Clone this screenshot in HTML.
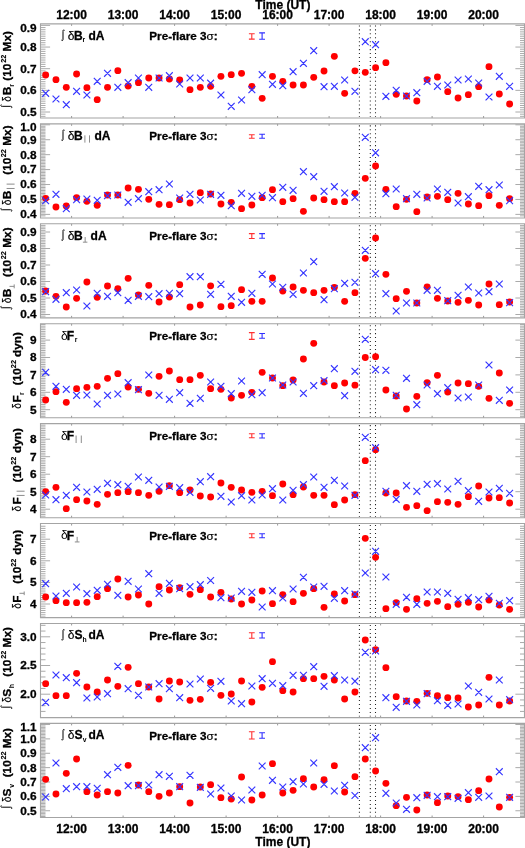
<!DOCTYPE html>
<html><head><meta charset="utf-8"><style>html,body{margin:0;padding:0;background:#fff;width:525px;height:848px;overflow:hidden}</style></head>
<body>
<svg width="525" height="848" viewBox="0 0 525 848" style="display:block;will-change:transform">
<rect width="525" height="848" fill="#fff"/>
<path d="M40.5 116.33h5.0M525 116.33h-5.0M40.5 114.16h5.0M525 114.16h-5.0M40.5 112.00h9.6M525 112.00h-9.6M40.5 109.84h5.0M525 109.84h-5.0M40.5 107.67h5.0M525 107.67h-5.0M40.5 105.50h5.0M525 105.50h-5.0M40.5 103.34h5.0M525 103.34h-5.0M40.5 101.17h5.0M525 101.17h-5.0M40.5 99.01h5.0M525 99.01h-5.0M40.5 96.84h5.0M525 96.84h-5.0M40.5 94.68h5.0M525 94.68h-5.0M40.5 92.52h5.0M525 92.52h-5.0M40.5 90.35h9.6M525 90.35h-9.6M40.5 88.19h5.0M525 88.19h-5.0M40.5 86.02h5.0M525 86.02h-5.0M40.5 83.86h5.0M525 83.86h-5.0M40.5 81.69h5.0M525 81.69h-5.0M40.5 79.53h5.0M525 79.53h-5.0M40.5 77.36h5.0M525 77.36h-5.0M40.5 75.19h5.0M525 75.19h-5.0M40.5 73.03h5.0M525 73.03h-5.0M40.5 70.86h5.0M525 70.86h-5.0M40.5 68.70h9.6M525 68.70h-9.6M40.5 66.54h5.0M525 66.54h-5.0M40.5 64.37h5.0M525 64.37h-5.0M40.5 62.21h5.0M525 62.21h-5.0M40.5 60.04h5.0M525 60.04h-5.0M40.5 57.88h5.0M525 57.88h-5.0M40.5 55.71h5.0M525 55.71h-5.0M40.5 53.55h5.0M525 53.55h-5.0M40.5 51.38h5.0M525 51.38h-5.0M40.5 49.21h5.0M525 49.21h-5.0M40.5 47.05h9.6M525 47.05h-9.6M40.5 44.88h5.0M525 44.88h-5.0M40.5 42.72h5.0M525 42.72h-5.0M40.5 40.55h5.0M525 40.55h-5.0M40.5 38.39h5.0M525 38.39h-5.0M40.5 36.23h5.0M525 36.23h-5.0M40.5 34.06h5.0M525 34.06h-5.0M40.5 31.90h5.0M525 31.90h-5.0M40.5 29.73h5.0M525 29.73h-5.0M40.5 27.57h5.0M525 27.57h-5.0M40.5 25.40h9.6M525 25.40h-9.6" stroke="#aaaaaa" stroke-width="1" fill="none"/>
<path d="M71.60 23.90v2M71.60 118.00v-2M123.10 23.90v2M123.10 118.00v-2M174.60 23.90v2M174.60 118.00v-2M226.10 23.90v2M226.10 118.00v-2M277.60 23.90v2M277.60 118.00v-2M329.10 23.90v2M329.10 118.00v-2M380.60 23.90v2M380.60 118.00v-2M432.10 23.90v2M432.10 118.00v-2M483.60 23.90v2M483.60 118.00v-2" stroke="#999" stroke-width="1" fill="none"/>
<path d="M524.5 23.90H40.5V118.00H524.5Z" stroke="#a4a4a4" stroke-width="1.1" fill="none"/>
<text x="36.60" y="115.90" text-anchor="end" font-family="&quot;Liberation Sans&quot;, sans-serif" font-weight="bold" font-size="11.8" stroke="#000" stroke-width="0.3">0.5</text>
<text x="36.60" y="94.25" text-anchor="end" font-family="&quot;Liberation Sans&quot;, sans-serif" font-weight="bold" font-size="11.8" stroke="#000" stroke-width="0.3">0.6</text>
<text x="36.60" y="72.60" text-anchor="end" font-family="&quot;Liberation Sans&quot;, sans-serif" font-weight="bold" font-size="11.8" stroke="#000" stroke-width="0.3">0.7</text>
<text x="36.60" y="50.95" text-anchor="end" font-family="&quot;Liberation Sans&quot;, sans-serif" font-weight="bold" font-size="11.8" stroke="#000" stroke-width="0.3">0.8</text>
<text x="36.60" y="31.50" text-anchor="end" font-family="&quot;Liberation Sans&quot;, sans-serif" font-weight="bold" font-size="11.8" stroke="#000" stroke-width="0.3">0.9</text>
<path d="M40.5 215.87h5.0M525 215.87h-5.0M40.5 214.38h9.6M525 214.38h-9.6M40.5 212.89h5.0M525 212.89h-5.0M40.5 211.39h5.0M525 211.39h-5.0M40.5 209.90h5.0M525 209.90h-5.0M40.5 208.41h5.0M525 208.41h-5.0M40.5 206.92h5.0M525 206.92h-5.0M40.5 205.42h5.0M525 205.42h-5.0M40.5 203.93h5.0M525 203.93h-5.0M40.5 202.44h5.0M525 202.44h-5.0M40.5 200.94h5.0M525 200.94h-5.0M40.5 199.45h9.6M525 199.45h-9.6M40.5 197.96h5.0M525 197.96h-5.0M40.5 196.46h5.0M525 196.46h-5.0M40.5 194.97h5.0M525 194.97h-5.0M40.5 193.48h5.0M525 193.48h-5.0M40.5 191.99h5.0M525 191.99h-5.0M40.5 190.49h5.0M525 190.49h-5.0M40.5 189.00h5.0M525 189.00h-5.0M40.5 187.51h5.0M525 187.51h-5.0M40.5 186.01h5.0M525 186.01h-5.0M40.5 184.52h9.6M525 184.52h-9.6M40.5 183.03h5.0M525 183.03h-5.0M40.5 181.53h5.0M525 181.53h-5.0M40.5 180.04h5.0M525 180.04h-5.0M40.5 178.55h5.0M525 178.55h-5.0M40.5 177.06h5.0M525 177.06h-5.0M40.5 175.56h5.0M525 175.56h-5.0M40.5 174.07h5.0M525 174.07h-5.0M40.5 172.58h5.0M525 172.58h-5.0M40.5 171.08h5.0M525 171.08h-5.0M40.5 169.59h9.6M525 169.59h-9.6M40.5 168.10h5.0M525 168.10h-5.0M40.5 166.60h5.0M525 166.60h-5.0M40.5 165.11h5.0M525 165.11h-5.0M40.5 163.62h5.0M525 163.62h-5.0M40.5 162.12h5.0M525 162.12h-5.0M40.5 160.63h5.0M525 160.63h-5.0M40.5 159.14h5.0M525 159.14h-5.0M40.5 157.65h5.0M525 157.65h-5.0M40.5 156.15h5.0M525 156.15h-5.0M40.5 154.66h9.6M525 154.66h-9.6M40.5 153.17h5.0M525 153.17h-5.0M40.5 151.67h5.0M525 151.67h-5.0M40.5 150.18h5.0M525 150.18h-5.0M40.5 148.69h5.0M525 148.69h-5.0M40.5 147.19h5.0M525 147.19h-5.0M40.5 145.70h5.0M525 145.70h-5.0M40.5 144.21h5.0M525 144.21h-5.0M40.5 142.72h5.0M525 142.72h-5.0M40.5 141.22h5.0M525 141.22h-5.0M40.5 139.73h9.6M525 139.73h-9.6M40.5 138.24h5.0M525 138.24h-5.0M40.5 136.74h5.0M525 136.74h-5.0M40.5 135.25h5.0M525 135.25h-5.0M40.5 133.76h5.0M525 133.76h-5.0M40.5 132.26h5.0M525 132.26h-5.0M40.5 130.77h5.0M525 130.77h-5.0M40.5 129.28h5.0M525 129.28h-5.0M40.5 127.79h5.0M525 127.79h-5.0M40.5 126.29h5.0M525 126.29h-5.0M40.5 124.80h9.6M525 124.80h-9.6" stroke="#aaaaaa" stroke-width="1" fill="none"/>
<path d="M71.60 123.83v2M71.60 217.93v-2M123.10 123.83v2M123.10 217.93v-2M174.60 123.83v2M174.60 217.93v-2M226.10 123.83v2M226.10 217.93v-2M277.60 123.83v2M277.60 217.93v-2M329.10 123.83v2M329.10 217.93v-2M380.60 123.83v2M380.60 217.93v-2M432.10 123.83v2M432.10 217.93v-2M483.60 123.83v2M483.60 217.93v-2" stroke="#999" stroke-width="1" fill="none"/>
<path d="M524.5 123.83H40.5V217.93H524.5Z" stroke="#a4a4a4" stroke-width="1.1" fill="none"/>
<text x="36.60" y="218.28" text-anchor="end" font-family="&quot;Liberation Sans&quot;, sans-serif" font-weight="bold" font-size="11.8" stroke="#000" stroke-width="0.3">0.4</text>
<text x="36.60" y="203.35" text-anchor="end" font-family="&quot;Liberation Sans&quot;, sans-serif" font-weight="bold" font-size="11.8" stroke="#000" stroke-width="0.3">0.5</text>
<text x="36.60" y="188.42" text-anchor="end" font-family="&quot;Liberation Sans&quot;, sans-serif" font-weight="bold" font-size="11.8" stroke="#000" stroke-width="0.3">0.6</text>
<text x="36.60" y="173.49" text-anchor="end" font-family="&quot;Liberation Sans&quot;, sans-serif" font-weight="bold" font-size="11.8" stroke="#000" stroke-width="0.3">0.7</text>
<text x="36.60" y="158.56" text-anchor="end" font-family="&quot;Liberation Sans&quot;, sans-serif" font-weight="bold" font-size="11.8" stroke="#000" stroke-width="0.3">0.8</text>
<text x="36.60" y="143.63" text-anchor="end" font-family="&quot;Liberation Sans&quot;, sans-serif" font-weight="bold" font-size="11.8" stroke="#000" stroke-width="0.3">0.9</text>
<text x="36.60" y="130.90" text-anchor="end" font-family="&quot;Liberation Sans&quot;, sans-serif" font-weight="bold" font-size="11.8" stroke="#000" stroke-width="0.3">1.0</text>
<path d="M40.5 316.15h5.0M525 316.15h-5.0M40.5 314.50h9.6M525 314.50h-9.6M40.5 312.85h5.0M525 312.85h-5.0M40.5 311.20h5.0M525 311.20h-5.0M40.5 309.55h5.0M525 309.55h-5.0M40.5 307.90h5.0M525 307.90h-5.0M40.5 306.25h5.0M525 306.25h-5.0M40.5 304.60h5.0M525 304.60h-5.0M40.5 302.95h5.0M525 302.95h-5.0M40.5 301.30h5.0M525 301.30h-5.0M40.5 299.65h5.0M525 299.65h-5.0M40.5 298.00h9.6M525 298.00h-9.6M40.5 296.35h5.0M525 296.35h-5.0M40.5 294.70h5.0M525 294.70h-5.0M40.5 293.05h5.0M525 293.05h-5.0M40.5 291.40h5.0M525 291.40h-5.0M40.5 289.75h5.0M525 289.75h-5.0M40.5 288.10h5.0M525 288.10h-5.0M40.5 286.45h5.0M525 286.45h-5.0M40.5 284.80h5.0M525 284.80h-5.0M40.5 283.15h5.0M525 283.15h-5.0M40.5 281.50h9.6M525 281.50h-9.6M40.5 279.85h5.0M525 279.85h-5.0M40.5 278.20h5.0M525 278.20h-5.0M40.5 276.55h5.0M525 276.55h-5.0M40.5 274.90h5.0M525 274.90h-5.0M40.5 273.25h5.0M525 273.25h-5.0M40.5 271.60h5.0M525 271.60h-5.0M40.5 269.95h5.0M525 269.95h-5.0M40.5 268.30h5.0M525 268.30h-5.0M40.5 266.65h5.0M525 266.65h-5.0M40.5 265.00h9.6M525 265.00h-9.6M40.5 263.35h5.0M525 263.35h-5.0M40.5 261.70h5.0M525 261.70h-5.0M40.5 260.05h5.0M525 260.05h-5.0M40.5 258.40h5.0M525 258.40h-5.0M40.5 256.75h5.0M525 256.75h-5.0M40.5 255.10h5.0M525 255.10h-5.0M40.5 253.45h5.0M525 253.45h-5.0M40.5 251.80h5.0M525 251.80h-5.0M40.5 250.15h5.0M525 250.15h-5.0M40.5 248.50h9.6M525 248.50h-9.6M40.5 246.85h5.0M525 246.85h-5.0M40.5 245.20h5.0M525 245.20h-5.0M40.5 243.55h5.0M525 243.55h-5.0M40.5 241.90h5.0M525 241.90h-5.0M40.5 240.25h5.0M525 240.25h-5.0M40.5 238.60h5.0M525 238.60h-5.0M40.5 236.95h5.0M525 236.95h-5.0M40.5 235.30h5.0M525 235.30h-5.0M40.5 233.65h5.0M525 233.65h-5.0M40.5 232.00h9.6M525 232.00h-9.6M40.5 230.35h5.0M525 230.35h-5.0M40.5 228.70h5.0M525 228.70h-5.0M40.5 227.05h5.0M525 227.05h-5.0M40.5 225.40h5.0M525 225.40h-5.0" stroke="#aaaaaa" stroke-width="1" fill="none"/>
<path d="M71.60 223.76v2M71.60 317.86v-2M123.10 223.76v2M123.10 317.86v-2M174.60 223.76v2M174.60 317.86v-2M226.10 223.76v2M226.10 317.86v-2M277.60 223.76v2M277.60 317.86v-2M329.10 223.76v2M329.10 317.86v-2M380.60 223.76v2M380.60 317.86v-2M432.10 223.76v2M432.10 317.86v-2M483.60 223.76v2M483.60 317.86v-2" stroke="#999" stroke-width="1" fill="none"/>
<path d="M524.5 223.76H40.5V317.86H524.5Z" stroke="#a4a4a4" stroke-width="1.1" fill="none"/>
<text x="36.60" y="318.40" text-anchor="end" font-family="&quot;Liberation Sans&quot;, sans-serif" font-weight="bold" font-size="11.8" stroke="#000" stroke-width="0.3">0.4</text>
<text x="36.60" y="301.90" text-anchor="end" font-family="&quot;Liberation Sans&quot;, sans-serif" font-weight="bold" font-size="11.8" stroke="#000" stroke-width="0.3">0.5</text>
<text x="36.60" y="285.40" text-anchor="end" font-family="&quot;Liberation Sans&quot;, sans-serif" font-weight="bold" font-size="11.8" stroke="#000" stroke-width="0.3">0.6</text>
<text x="36.60" y="268.90" text-anchor="end" font-family="&quot;Liberation Sans&quot;, sans-serif" font-weight="bold" font-size="11.8" stroke="#000" stroke-width="0.3">0.7</text>
<text x="36.60" y="252.40" text-anchor="end" font-family="&quot;Liberation Sans&quot;, sans-serif" font-weight="bold" font-size="11.8" stroke="#000" stroke-width="0.3">0.8</text>
<text x="36.60" y="235.90" text-anchor="end" font-family="&quot;Liberation Sans&quot;, sans-serif" font-weight="bold" font-size="11.8" stroke="#000" stroke-width="0.3">0.9</text>
<path d="M40.5 416.66h5.0M525 416.66h-5.0M40.5 414.92h5.0M525 414.92h-5.0M40.5 413.18h5.0M525 413.18h-5.0M40.5 411.44h5.0M525 411.44h-5.0M40.5 409.70h9.6M525 409.70h-9.6M40.5 407.96h5.0M525 407.96h-5.0M40.5 406.22h5.0M525 406.22h-5.0M40.5 404.48h5.0M525 404.48h-5.0M40.5 402.74h5.0M525 402.74h-5.0M40.5 401.00h5.0M525 401.00h-5.0M40.5 399.26h5.0M525 399.26h-5.0M40.5 397.52h5.0M525 397.52h-5.0M40.5 395.78h5.0M525 395.78h-5.0M40.5 394.04h5.0M525 394.04h-5.0M40.5 392.30h9.6M525 392.30h-9.6M40.5 390.56h5.0M525 390.56h-5.0M40.5 388.82h5.0M525 388.82h-5.0M40.5 387.08h5.0M525 387.08h-5.0M40.5 385.34h5.0M525 385.34h-5.0M40.5 383.60h5.0M525 383.60h-5.0M40.5 381.86h5.0M525 381.86h-5.0M40.5 380.12h5.0M525 380.12h-5.0M40.5 378.38h5.0M525 378.38h-5.0M40.5 376.64h5.0M525 376.64h-5.0M40.5 374.90h9.6M525 374.90h-9.6M40.5 373.16h5.0M525 373.16h-5.0M40.5 371.42h5.0M525 371.42h-5.0M40.5 369.68h5.0M525 369.68h-5.0M40.5 367.94h5.0M525 367.94h-5.0M40.5 366.20h5.0M525 366.20h-5.0M40.5 364.46h5.0M525 364.46h-5.0M40.5 362.72h5.0M525 362.72h-5.0M40.5 360.98h5.0M525 360.98h-5.0M40.5 359.24h5.0M525 359.24h-5.0M40.5 357.50h9.6M525 357.50h-9.6M40.5 355.76h5.0M525 355.76h-5.0M40.5 354.02h5.0M525 354.02h-5.0M40.5 352.28h5.0M525 352.28h-5.0M40.5 350.54h5.0M525 350.54h-5.0M40.5 348.80h5.0M525 348.80h-5.0M40.5 347.06h5.0M525 347.06h-5.0M40.5 345.32h5.0M525 345.32h-5.0M40.5 343.58h5.0M525 343.58h-5.0M40.5 341.84h5.0M525 341.84h-5.0M40.5 340.10h9.6M525 340.10h-9.6M40.5 338.36h5.0M525 338.36h-5.0M40.5 336.62h5.0M525 336.62h-5.0M40.5 334.88h5.0M525 334.88h-5.0M40.5 333.14h5.0M525 333.14h-5.0M40.5 331.40h5.0M525 331.40h-5.0M40.5 329.66h5.0M525 329.66h-5.0M40.5 327.92h5.0M525 327.92h-5.0M40.5 326.18h5.0M525 326.18h-5.0M40.5 324.44h5.0M525 324.44h-5.0" stroke="#aaaaaa" stroke-width="1" fill="none"/>
<path d="M71.60 323.69v2M71.60 417.79v-2M123.10 323.69v2M123.10 417.79v-2M174.60 323.69v2M174.60 417.79v-2M226.10 323.69v2M226.10 417.79v-2M277.60 323.69v2M277.60 417.79v-2M329.10 323.69v2M329.10 417.79v-2M380.60 323.69v2M380.60 417.79v-2M432.10 323.69v2M432.10 417.79v-2M483.60 323.69v2M483.60 417.79v-2" stroke="#999" stroke-width="1" fill="none"/>
<path d="M524.5 323.69H40.5V417.79H524.5Z" stroke="#a4a4a4" stroke-width="1.1" fill="none"/>
<text x="36.60" y="413.60" text-anchor="end" font-family="&quot;Liberation Sans&quot;, sans-serif" font-weight="bold" font-size="11.8" stroke="#000" stroke-width="0.3">5</text>
<text x="36.60" y="396.20" text-anchor="end" font-family="&quot;Liberation Sans&quot;, sans-serif" font-weight="bold" font-size="11.8" stroke="#000" stroke-width="0.3">6</text>
<text x="36.60" y="378.80" text-anchor="end" font-family="&quot;Liberation Sans&quot;, sans-serif" font-weight="bold" font-size="11.8" stroke="#000" stroke-width="0.3">7</text>
<text x="36.60" y="361.40" text-anchor="end" font-family="&quot;Liberation Sans&quot;, sans-serif" font-weight="bold" font-size="11.8" stroke="#000" stroke-width="0.3">8</text>
<text x="36.60" y="344.00" text-anchor="end" font-family="&quot;Liberation Sans&quot;, sans-serif" font-weight="bold" font-size="11.8" stroke="#000" stroke-width="0.3">9</text>
<path d="M40.5 516.20h5.0M525 516.20h-5.0M40.5 514.45h5.0M525 514.45h-5.0M40.5 512.70h5.0M525 512.70h-5.0M40.5 510.95h5.0M525 510.95h-5.0M40.5 509.20h9.6M525 509.20h-9.6M40.5 507.45h5.0M525 507.45h-5.0M40.5 505.70h5.0M525 505.70h-5.0M40.5 503.95h5.0M525 503.95h-5.0M40.5 502.20h5.0M525 502.20h-5.0M40.5 500.45h5.0M525 500.45h-5.0M40.5 498.70h5.0M525 498.70h-5.0M40.5 496.95h5.0M525 496.95h-5.0M40.5 495.20h5.0M525 495.20h-5.0M40.5 493.45h5.0M525 493.45h-5.0M40.5 491.70h9.6M525 491.70h-9.6M40.5 489.95h5.0M525 489.95h-5.0M40.5 488.20h5.0M525 488.20h-5.0M40.5 486.45h5.0M525 486.45h-5.0M40.5 484.70h5.0M525 484.70h-5.0M40.5 482.95h5.0M525 482.95h-5.0M40.5 481.20h5.0M525 481.20h-5.0M40.5 479.45h5.0M525 479.45h-5.0M40.5 477.70h5.0M525 477.70h-5.0M40.5 475.95h5.0M525 475.95h-5.0M40.5 474.20h9.6M525 474.20h-9.6M40.5 472.45h5.0M525 472.45h-5.0M40.5 470.70h5.0M525 470.70h-5.0M40.5 468.95h5.0M525 468.95h-5.0M40.5 467.20h5.0M525 467.20h-5.0M40.5 465.45h5.0M525 465.45h-5.0M40.5 463.70h5.0M525 463.70h-5.0M40.5 461.95h5.0M525 461.95h-5.0M40.5 460.20h5.0M525 460.20h-5.0M40.5 458.45h5.0M525 458.45h-5.0M40.5 456.70h9.6M525 456.70h-9.6M40.5 454.95h5.0M525 454.95h-5.0M40.5 453.20h5.0M525 453.20h-5.0M40.5 451.45h5.0M525 451.45h-5.0M40.5 449.70h5.0M525 449.70h-5.0M40.5 447.95h5.0M525 447.95h-5.0M40.5 446.20h5.0M525 446.20h-5.0M40.5 444.45h5.0M525 444.45h-5.0M40.5 442.70h5.0M525 442.70h-5.0M40.5 440.95h5.0M525 440.95h-5.0M40.5 439.20h9.6M525 439.20h-9.6M40.5 437.45h5.0M525 437.45h-5.0M40.5 435.70h5.0M525 435.70h-5.0M40.5 433.95h5.0M525 433.95h-5.0M40.5 432.20h5.0M525 432.20h-5.0M40.5 430.45h5.0M525 430.45h-5.0M40.5 428.70h5.0M525 428.70h-5.0M40.5 426.95h5.0M525 426.95h-5.0M40.5 425.20h5.0M525 425.20h-5.0" stroke="#aaaaaa" stroke-width="1" fill="none"/>
<path d="M71.60 423.62v2M71.60 517.72v-2M123.10 423.62v2M123.10 517.72v-2M174.60 423.62v2M174.60 517.72v-2M226.10 423.62v2M226.10 517.72v-2M277.60 423.62v2M277.60 517.72v-2M329.10 423.62v2M329.10 517.72v-2M380.60 423.62v2M380.60 517.72v-2M432.10 423.62v2M432.10 517.72v-2M483.60 423.62v2M483.60 517.72v-2" stroke="#999" stroke-width="1" fill="none"/>
<path d="M524.5 423.62H40.5V517.72H524.5Z" stroke="#a4a4a4" stroke-width="1.1" fill="none"/>
<text x="36.60" y="513.10" text-anchor="end" font-family="&quot;Liberation Sans&quot;, sans-serif" font-weight="bold" font-size="11.8" stroke="#000" stroke-width="0.3">4</text>
<text x="36.60" y="495.60" text-anchor="end" font-family="&quot;Liberation Sans&quot;, sans-serif" font-weight="bold" font-size="11.8" stroke="#000" stroke-width="0.3">5</text>
<text x="36.60" y="478.10" text-anchor="end" font-family="&quot;Liberation Sans&quot;, sans-serif" font-weight="bold" font-size="11.8" stroke="#000" stroke-width="0.3">6</text>
<text x="36.60" y="460.60" text-anchor="end" font-family="&quot;Liberation Sans&quot;, sans-serif" font-weight="bold" font-size="11.8" stroke="#000" stroke-width="0.3">7</text>
<text x="36.60" y="443.10" text-anchor="end" font-family="&quot;Liberation Sans&quot;, sans-serif" font-weight="bold" font-size="11.8" stroke="#000" stroke-width="0.3">8</text>
<path d="M40.5 616.96h5.0M525 616.96h-5.0M40.5 614.80h5.0M525 614.80h-5.0M40.5 612.64h5.0M525 612.64h-5.0M40.5 610.48h5.0M525 610.48h-5.0M40.5 608.32h5.0M525 608.32h-5.0M40.5 606.16h5.0M525 606.16h-5.0M40.5 604.00h9.6M525 604.00h-9.6M40.5 601.84h5.0M525 601.84h-5.0M40.5 599.68h5.0M525 599.68h-5.0M40.5 597.52h5.0M525 597.52h-5.0M40.5 595.36h5.0M525 595.36h-5.0M40.5 593.20h5.0M525 593.20h-5.0M40.5 591.04h5.0M525 591.04h-5.0M40.5 588.88h5.0M525 588.88h-5.0M40.5 586.72h5.0M525 586.72h-5.0M40.5 584.56h5.0M525 584.56h-5.0M40.5 582.40h9.6M525 582.40h-9.6M40.5 580.24h5.0M525 580.24h-5.0M40.5 578.08h5.0M525 578.08h-5.0M40.5 575.92h5.0M525 575.92h-5.0M40.5 573.76h5.0M525 573.76h-5.0M40.5 571.60h5.0M525 571.60h-5.0M40.5 569.44h5.0M525 569.44h-5.0M40.5 567.28h5.0M525 567.28h-5.0M40.5 565.12h5.0M525 565.12h-5.0M40.5 562.96h5.0M525 562.96h-5.0M40.5 560.80h9.6M525 560.80h-9.6M40.5 558.64h5.0M525 558.64h-5.0M40.5 556.48h5.0M525 556.48h-5.0M40.5 554.32h5.0M525 554.32h-5.0M40.5 552.16h5.0M525 552.16h-5.0M40.5 550.00h5.0M525 550.00h-5.0M40.5 547.84h5.0M525 547.84h-5.0M40.5 545.68h5.0M525 545.68h-5.0M40.5 543.52h5.0M525 543.52h-5.0M40.5 541.36h5.0M525 541.36h-5.0M40.5 539.20h9.6M525 539.20h-9.6M40.5 537.04h5.0M525 537.04h-5.0M40.5 534.88h5.0M525 534.88h-5.0M40.5 532.72h5.0M525 532.72h-5.0M40.5 530.56h5.0M525 530.56h-5.0M40.5 528.40h5.0M525 528.40h-5.0M40.5 526.24h5.0M525 526.24h-5.0" stroke="#aaaaaa" stroke-width="1" fill="none"/>
<path d="M71.60 523.55v2M71.60 617.65v-2M123.10 523.55v2M123.10 617.65v-2M174.60 523.55v2M174.60 617.65v-2M226.10 523.55v2M226.10 617.65v-2M277.60 523.55v2M277.60 617.65v-2M329.10 523.55v2M329.10 617.65v-2M380.60 523.55v2M380.60 617.65v-2M432.10 523.55v2M432.10 617.65v-2M483.60 523.55v2M483.60 617.65v-2" stroke="#999" stroke-width="1" fill="none"/>
<path d="M524.5 523.55H40.5V617.65H524.5Z" stroke="#a4a4a4" stroke-width="1.1" fill="none"/>
<text x="36.60" y="607.90" text-anchor="end" font-family="&quot;Liberation Sans&quot;, sans-serif" font-weight="bold" font-size="11.8" stroke="#000" stroke-width="0.3">4</text>
<text x="36.60" y="586.30" text-anchor="end" font-family="&quot;Liberation Sans&quot;, sans-serif" font-weight="bold" font-size="11.8" stroke="#000" stroke-width="0.3">5</text>
<text x="36.60" y="564.70" text-anchor="end" font-family="&quot;Liberation Sans&quot;, sans-serif" font-weight="bold" font-size="11.8" stroke="#000" stroke-width="0.3">6</text>
<text x="36.60" y="543.10" text-anchor="end" font-family="&quot;Liberation Sans&quot;, sans-serif" font-weight="bold" font-size="11.8" stroke="#000" stroke-width="0.3">7</text>
<path d="M40.5 711.42h5.0M525 711.42h-5.0M40.5 705.68h5.0M525 705.68h-5.0M40.5 699.94h5.0M525 699.94h-5.0M40.5 694.20h9.6M525 694.20h-9.6M40.5 688.46h5.0M525 688.46h-5.0M40.5 682.72h5.0M525 682.72h-5.0M40.5 676.98h5.0M525 676.98h-5.0M40.5 671.24h5.0M525 671.24h-5.0M40.5 665.50h9.6M525 665.50h-9.6M40.5 659.76h5.0M525 659.76h-5.0M40.5 654.02h5.0M525 654.02h-5.0M40.5 648.28h5.0M525 648.28h-5.0M40.5 642.54h5.0M525 642.54h-5.0M40.5 636.80h9.6M525 636.80h-9.6M40.5 631.06h5.0M525 631.06h-5.0M40.5 625.32h5.0M525 625.32h-5.0" stroke="#aaaaaa" stroke-width="1" fill="none"/>
<path d="M71.60 623.48v2M71.60 717.58v-2M123.10 623.48v2M123.10 717.58v-2M174.60 623.48v2M174.60 717.58v-2M226.10 623.48v2M226.10 717.58v-2M277.60 623.48v2M277.60 717.58v-2M329.10 623.48v2M329.10 717.58v-2M380.60 623.48v2M380.60 717.58v-2M432.10 623.48v2M432.10 717.58v-2M483.60 623.48v2M483.60 717.58v-2" stroke="#999" stroke-width="1" fill="none"/>
<path d="M524.5 623.48H40.5V717.58H524.5Z" stroke="#a4a4a4" stroke-width="1.1" fill="none"/>
<text x="36.60" y="698.10" text-anchor="end" font-family="&quot;Liberation Sans&quot;, sans-serif" font-weight="bold" font-size="11.8" stroke="#000" stroke-width="0.3">2.0</text>
<text x="36.60" y="669.40" text-anchor="end" font-family="&quot;Liberation Sans&quot;, sans-serif" font-weight="bold" font-size="11.8" stroke="#000" stroke-width="0.3">2.5</text>
<text x="36.60" y="640.70" text-anchor="end" font-family="&quot;Liberation Sans&quot;, sans-serif" font-weight="bold" font-size="11.8" stroke="#000" stroke-width="0.3">3.0</text>
<path d="M40.5 816.50h5.0M525 816.50h-5.0M40.5 815.06h5.0M525 815.06h-5.0M40.5 813.62h5.0M525 813.62h-5.0M40.5 812.19h5.0M525 812.19h-5.0M40.5 810.75h9.6M525 810.75h-9.6M40.5 809.31h5.0M525 809.31h-5.0M40.5 807.88h5.0M525 807.88h-5.0M40.5 806.44h5.0M525 806.44h-5.0M40.5 805.00h5.0M525 805.00h-5.0M40.5 803.56h5.0M525 803.56h-5.0M40.5 802.13h5.0M525 802.13h-5.0M40.5 800.69h5.0M525 800.69h-5.0M40.5 799.25h5.0M525 799.25h-5.0M40.5 797.82h5.0M525 797.82h-5.0M40.5 796.38h9.6M525 796.38h-9.6M40.5 794.94h5.0M525 794.94h-5.0M40.5 793.51h5.0M525 793.51h-5.0M40.5 792.07h5.0M525 792.07h-5.0M40.5 790.63h5.0M525 790.63h-5.0M40.5 789.19h5.0M525 789.19h-5.0M40.5 787.76h5.0M525 787.76h-5.0M40.5 786.32h5.0M525 786.32h-5.0M40.5 784.88h5.0M525 784.88h-5.0M40.5 783.45h5.0M525 783.45h-5.0M40.5 782.01h9.6M525 782.01h-9.6M40.5 780.57h5.0M525 780.57h-5.0M40.5 779.14h5.0M525 779.14h-5.0M40.5 777.70h5.0M525 777.70h-5.0M40.5 776.26h5.0M525 776.26h-5.0M40.5 774.82h5.0M525 774.82h-5.0M40.5 773.39h5.0M525 773.39h-5.0M40.5 771.95h5.0M525 771.95h-5.0M40.5 770.51h5.0M525 770.51h-5.0M40.5 769.08h5.0M525 769.08h-5.0M40.5 767.64h9.6M525 767.64h-9.6M40.5 766.20h5.0M525 766.20h-5.0M40.5 764.77h5.0M525 764.77h-5.0M40.5 763.33h5.0M525 763.33h-5.0M40.5 761.89h5.0M525 761.89h-5.0M40.5 760.45h5.0M525 760.45h-5.0M40.5 759.02h5.0M525 759.02h-5.0M40.5 757.58h5.0M525 757.58h-5.0M40.5 756.14h5.0M525 756.14h-5.0M40.5 754.71h5.0M525 754.71h-5.0M40.5 753.27h9.6M525 753.27h-9.6M40.5 751.83h5.0M525 751.83h-5.0M40.5 750.40h5.0M525 750.40h-5.0M40.5 748.96h5.0M525 748.96h-5.0M40.5 747.52h5.0M525 747.52h-5.0M40.5 746.08h5.0M525 746.08h-5.0M40.5 744.65h5.0M525 744.65h-5.0M40.5 743.21h5.0M525 743.21h-5.0M40.5 741.77h5.0M525 741.77h-5.0M40.5 740.34h5.0M525 740.34h-5.0M40.5 738.90h9.6M525 738.90h-9.6M40.5 737.46h5.0M525 737.46h-5.0M40.5 736.03h5.0M525 736.03h-5.0M40.5 734.59h5.0M525 734.59h-5.0M40.5 733.15h5.0M525 733.15h-5.0M40.5 731.71h5.0M525 731.71h-5.0M40.5 730.28h5.0M525 730.28h-5.0M40.5 728.84h5.0M525 728.84h-5.0M40.5 727.40h5.0M525 727.40h-5.0M40.5 725.97h5.0M525 725.97h-5.0M40.5 724.53h9.6M525 724.53h-9.6" stroke="#aaaaaa" stroke-width="1" fill="none"/>
<path d="M71.60 723.41v2M71.60 817.51v-2M123.10 723.41v2M123.10 817.51v-2M174.60 723.41v2M174.60 817.51v-2M226.10 723.41v2M226.10 817.51v-2M277.60 723.41v2M277.60 817.51v-2M329.10 723.41v2M329.10 817.51v-2M380.60 723.41v2M380.60 817.51v-2M432.10 723.41v2M432.10 817.51v-2M483.60 723.41v2M483.60 817.51v-2" stroke="#999" stroke-width="1" fill="none"/>
<path d="M524.5 723.41H40.5V817.51H524.5Z" stroke="#a4a4a4" stroke-width="1.1" fill="none"/>
<text x="36.60" y="814.65" text-anchor="end" font-family="&quot;Liberation Sans&quot;, sans-serif" font-weight="bold" font-size="11.8" stroke="#000" stroke-width="0.3">0.5</text>
<text x="36.60" y="800.28" text-anchor="end" font-family="&quot;Liberation Sans&quot;, sans-serif" font-weight="bold" font-size="11.8" stroke="#000" stroke-width="0.3">0.6</text>
<text x="36.60" y="785.91" text-anchor="end" font-family="&quot;Liberation Sans&quot;, sans-serif" font-weight="bold" font-size="11.8" stroke="#000" stroke-width="0.3">0.7</text>
<text x="36.60" y="771.54" text-anchor="end" font-family="&quot;Liberation Sans&quot;, sans-serif" font-weight="bold" font-size="11.8" stroke="#000" stroke-width="0.3">0.8</text>
<text x="36.60" y="757.17" text-anchor="end" font-family="&quot;Liberation Sans&quot;, sans-serif" font-weight="bold" font-size="11.8" stroke="#000" stroke-width="0.3">0.9</text>
<text x="36.60" y="742.80" text-anchor="end" font-family="&quot;Liberation Sans&quot;, sans-serif" font-weight="bold" font-size="11.8" stroke="#000" stroke-width="0.3">1.0</text>
<text x="36.60" y="730.63" text-anchor="end" font-family="&quot;Liberation Sans&quot;, sans-serif" font-weight="bold" font-size="11.8" stroke="#000" stroke-width="0.3">1.1</text>
<line x1="359.4" y1="25.40" x2="359.4" y2="117.00" stroke="#222" stroke-width="1.05" stroke-dasharray="1.05 2.9"/>
<line x1="370.3" y1="25.40" x2="370.3" y2="117.00" stroke="#222" stroke-width="1.05" stroke-dasharray="1.05 2.9"/>
<line x1="375.5" y1="25.40" x2="375.5" y2="117.00" stroke="#222" stroke-width="1.05" stroke-dasharray="1.05 2.9"/>
<line x1="359.4" y1="125.33" x2="359.4" y2="216.93" stroke="#222" stroke-width="1.05" stroke-dasharray="1.05 2.9"/>
<line x1="370.3" y1="125.33" x2="370.3" y2="216.93" stroke="#222" stroke-width="1.05" stroke-dasharray="1.05 2.9"/>
<line x1="375.5" y1="125.33" x2="375.5" y2="216.93" stroke="#222" stroke-width="1.05" stroke-dasharray="1.05 2.9"/>
<line x1="359.4" y1="225.26" x2="359.4" y2="316.86" stroke="#222" stroke-width="1.05" stroke-dasharray="1.05 2.9"/>
<line x1="370.3" y1="225.26" x2="370.3" y2="316.86" stroke="#222" stroke-width="1.05" stroke-dasharray="1.05 2.9"/>
<line x1="375.5" y1="225.26" x2="375.5" y2="316.86" stroke="#222" stroke-width="1.05" stroke-dasharray="1.05 2.9"/>
<line x1="359.4" y1="325.19" x2="359.4" y2="416.79" stroke="#222" stroke-width="1.05" stroke-dasharray="1.05 2.9"/>
<line x1="370.3" y1="325.19" x2="370.3" y2="416.79" stroke="#222" stroke-width="1.05" stroke-dasharray="1.05 2.9"/>
<line x1="375.5" y1="325.19" x2="375.5" y2="416.79" stroke="#222" stroke-width="1.05" stroke-dasharray="1.05 2.9"/>
<line x1="359.4" y1="425.12" x2="359.4" y2="516.72" stroke="#222" stroke-width="1.05" stroke-dasharray="1.05 2.9"/>
<line x1="370.3" y1="425.12" x2="370.3" y2="516.72" stroke="#222" stroke-width="1.05" stroke-dasharray="1.05 2.9"/>
<line x1="375.5" y1="425.12" x2="375.5" y2="516.72" stroke="#222" stroke-width="1.05" stroke-dasharray="1.05 2.9"/>
<line x1="359.4" y1="525.05" x2="359.4" y2="616.65" stroke="#222" stroke-width="1.05" stroke-dasharray="1.05 2.9"/>
<line x1="370.3" y1="525.05" x2="370.3" y2="616.65" stroke="#222" stroke-width="1.05" stroke-dasharray="1.05 2.9"/>
<line x1="375.5" y1="525.05" x2="375.5" y2="616.65" stroke="#222" stroke-width="1.05" stroke-dasharray="1.05 2.9"/>
<line x1="359.4" y1="624.98" x2="359.4" y2="716.58" stroke="#222" stroke-width="1.05" stroke-dasharray="1.05 2.9"/>
<line x1="370.3" y1="624.98" x2="370.3" y2="716.58" stroke="#222" stroke-width="1.05" stroke-dasharray="1.05 2.9"/>
<line x1="375.5" y1="624.98" x2="375.5" y2="716.58" stroke="#222" stroke-width="1.05" stroke-dasharray="1.05 2.9"/>
<line x1="359.4" y1="724.91" x2="359.4" y2="816.51" stroke="#222" stroke-width="1.05" stroke-dasharray="1.05 2.9"/>
<line x1="370.3" y1="724.91" x2="370.3" y2="816.51" stroke="#222" stroke-width="1.05" stroke-dasharray="1.05 2.9"/>
<line x1="375.5" y1="724.91" x2="375.5" y2="816.51" stroke="#222" stroke-width="1.05" stroke-dasharray="1.05 2.9"/>
<circle cx="45.66" cy="75.00" r="3.45" fill="#ff0000"/>
<circle cx="55.97" cy="79.67" r="3.45" fill="#ff0000"/>
<circle cx="66.28" cy="87.33" r="3.45" fill="#ff0000"/>
<circle cx="76.59" cy="74.00" r="3.45" fill="#ff0000"/>
<circle cx="86.90" cy="87.67" r="3.45" fill="#ff0000"/>
<circle cx="97.21" cy="99.67" r="3.45" fill="#ff0000"/>
<circle cx="107.52" cy="87.33" r="3.45" fill="#ff0000"/>
<circle cx="117.83" cy="70.67" r="3.45" fill="#ff0000"/>
<circle cx="128.14" cy="86.00" r="3.45" fill="#ff0000"/>
<circle cx="138.45" cy="82.67" r="3.45" fill="#ff0000"/>
<circle cx="148.76" cy="78.00" r="3.45" fill="#ff0000"/>
<circle cx="159.07" cy="78.00" r="3.45" fill="#ff0000"/>
<circle cx="169.38" cy="79.00" r="3.45" fill="#ff0000"/>
<circle cx="179.69" cy="80.00" r="3.45" fill="#ff0000"/>
<circle cx="190.00" cy="89.67" r="3.45" fill="#ff0000"/>
<circle cx="200.31" cy="87.33" r="3.45" fill="#ff0000"/>
<circle cx="210.62" cy="86.33" r="3.45" fill="#ff0000"/>
<circle cx="220.93" cy="76.33" r="3.45" fill="#ff0000"/>
<circle cx="231.24" cy="74.67" r="3.45" fill="#ff0000"/>
<circle cx="241.55" cy="73.33" r="3.45" fill="#ff0000"/>
<circle cx="251.86" cy="86.33" r="3.45" fill="#ff0000"/>
<circle cx="262.17" cy="98.33" r="3.45" fill="#ff0000"/>
<circle cx="272.48" cy="76.33" r="3.45" fill="#ff0000"/>
<circle cx="282.79" cy="81.33" r="3.45" fill="#ff0000"/>
<circle cx="293.10" cy="85.00" r="3.45" fill="#ff0000"/>
<circle cx="303.41" cy="85.00" r="3.45" fill="#ff0000"/>
<circle cx="313.72" cy="77.33" r="3.45" fill="#ff0000"/>
<circle cx="324.03" cy="71.00" r="3.45" fill="#ff0000"/>
<circle cx="334.34" cy="56.33" r="3.45" fill="#ff0000"/>
<circle cx="344.65" cy="93.33" r="3.45" fill="#ff0000"/>
<circle cx="354.96" cy="70.83" r="3.45" fill="#ff0000"/>
<circle cx="365.27" cy="72.33" r="3.45" fill="#ff0000"/>
<circle cx="375.58" cy="67.67" r="3.45" fill="#ff0000"/>
<circle cx="385.89" cy="62.67" r="3.45" fill="#ff0000"/>
<circle cx="396.20" cy="94.33" r="3.45" fill="#ff0000"/>
<circle cx="406.51" cy="96.00" r="3.45" fill="#ff0000"/>
<circle cx="416.82" cy="101.00" r="3.45" fill="#ff0000"/>
<circle cx="427.13" cy="79.67" r="3.45" fill="#ff0000"/>
<circle cx="437.44" cy="77.00" r="3.45" fill="#ff0000"/>
<circle cx="447.75" cy="91.67" r="3.45" fill="#ff0000"/>
<circle cx="458.06" cy="98.00" r="3.45" fill="#ff0000"/>
<circle cx="468.37" cy="94.67" r="3.45" fill="#ff0000"/>
<circle cx="478.68" cy="86.67" r="3.45" fill="#ff0000"/>
<circle cx="488.99" cy="66.67" r="3.45" fill="#ff0000"/>
<circle cx="499.30" cy="94.00" r="3.45" fill="#ff0000"/>
<circle cx="509.61" cy="104.00" r="3.45" fill="#ff0000"/>
<path d="M42.26 89.93L49.06 96.73M42.26 96.73L49.06 89.93M52.57 95.60L59.37 102.40M52.57 102.40L59.37 95.60M62.88 101.27L69.68 108.07M62.88 108.07L69.68 101.27M73.19 87.93L79.99 94.73M73.19 94.73L79.99 87.93M83.50 91.60L90.30 98.40M83.50 98.40L90.30 91.60M93.81 77.93L100.61 84.73M93.81 84.73L100.61 77.93M104.12 69.93L110.92 76.73M104.12 76.73L110.92 69.93M114.43 83.93L121.23 90.73M114.43 90.73L121.23 83.93M124.74 79.27L131.54 86.07M124.74 86.07L131.54 79.27M135.05 74.60L141.85 81.40M135.05 81.40L141.85 74.60M145.36 83.93L152.16 90.73M145.36 90.73L152.16 83.93M155.67 74.60L162.47 81.40M155.67 81.40L162.47 74.60M165.98 72.27L172.78 79.07M165.98 79.07L172.78 72.27M176.29 80.60L183.09 87.40M176.29 87.40L183.09 80.60M186.60 74.60L193.40 81.40M186.60 81.40L193.40 74.60M196.91 74.60L203.71 81.40M196.91 81.40L203.71 74.60M207.22 79.77L214.02 86.57M207.22 86.57L214.02 79.77M217.53 91.60L224.33 98.40M217.53 98.40L224.33 91.60M227.84 102.93L234.64 109.73M227.84 109.73L234.64 102.93M238.15 96.60L244.95 103.40M238.15 103.40L244.95 96.60M248.46 86.27L255.26 93.07M248.46 93.07L255.26 86.27M258.77 71.27L265.57 78.07M258.77 78.07L265.57 71.27M269.08 80.93L275.88 87.73M269.08 87.73L275.88 80.93M279.39 82.27L286.19 89.07M279.39 89.07L286.19 82.27M289.70 68.27L296.50 75.07M289.70 75.07L296.50 68.27M300.01 59.93L306.81 66.73M300.01 66.73L306.81 59.93M310.32 47.27L317.12 54.07M310.32 54.07L317.12 47.27M320.63 83.27L327.43 90.07M320.63 90.07L327.43 83.27M330.94 82.93L337.74 89.73M330.94 89.73L337.74 82.93M341.25 76.60L348.05 83.40M341.25 83.40L348.05 76.60M351.56 87.93L358.36 94.73M351.56 94.73L358.36 87.93M361.87 38.27L368.67 45.07M361.87 45.07L368.67 38.27M372.18 41.27L378.98 48.07M372.18 48.07L378.98 41.27M382.49 92.93L389.29 99.73M382.49 99.73L389.29 92.93M392.80 86.93L399.60 93.73M392.80 93.73L399.60 86.93M403.11 92.60L409.91 99.40M403.11 99.40L409.91 92.60M413.42 89.27L420.22 96.07M413.42 96.07L420.22 89.27M423.73 77.93L430.53 84.73M423.73 84.73L430.53 77.93M434.04 82.93L440.84 89.73M434.04 89.73L440.84 82.93M444.35 81.60L451.15 88.40M444.35 88.40L451.15 81.60M454.66 76.60L461.46 83.40M454.66 83.40L461.46 76.60M464.97 75.60L471.77 82.40M464.97 82.40L471.77 75.60M475.28 79.60L482.08 86.40M475.28 86.40L482.08 79.60M485.59 93.60L492.39 100.40M485.59 100.40L492.39 93.60M495.90 72.93L502.70 79.73M495.90 79.73L502.70 72.93M506.21 82.93L513.01 89.73M506.21 89.73L513.01 82.93" stroke="#3636ff" stroke-width="1.15" fill="none"/>
<circle cx="45.66" cy="198.33" r="3.45" fill="#ff0000"/>
<circle cx="55.97" cy="207.00" r="3.45" fill="#ff0000"/>
<circle cx="66.28" cy="206.00" r="3.45" fill="#ff0000"/>
<circle cx="76.59" cy="197.67" r="3.45" fill="#ff0000"/>
<circle cx="86.90" cy="201.33" r="3.45" fill="#ff0000"/>
<circle cx="97.21" cy="205.33" r="3.45" fill="#ff0000"/>
<circle cx="107.52" cy="195.00" r="3.45" fill="#ff0000"/>
<circle cx="117.83" cy="195.00" r="3.45" fill="#ff0000"/>
<circle cx="128.14" cy="188.00" r="3.45" fill="#ff0000"/>
<circle cx="138.45" cy="189.33" r="3.45" fill="#ff0000"/>
<circle cx="148.76" cy="199.33" r="3.45" fill="#ff0000"/>
<circle cx="159.07" cy="204.33" r="3.45" fill="#ff0000"/>
<circle cx="169.38" cy="204.67" r="3.45" fill="#ff0000"/>
<circle cx="179.69" cy="199.67" r="3.45" fill="#ff0000"/>
<circle cx="190.00" cy="203.00" r="3.45" fill="#ff0000"/>
<circle cx="200.31" cy="192.67" r="3.45" fill="#ff0000"/>
<circle cx="210.62" cy="194.00" r="3.45" fill="#ff0000"/>
<circle cx="220.93" cy="204.00" r="3.45" fill="#ff0000"/>
<circle cx="231.24" cy="202.33" r="3.45" fill="#ff0000"/>
<circle cx="241.55" cy="208.67" r="3.45" fill="#ff0000"/>
<circle cx="251.86" cy="205.00" r="3.45" fill="#ff0000"/>
<circle cx="262.17" cy="197.67" r="3.45" fill="#ff0000"/>
<circle cx="272.48" cy="189.67" r="3.45" fill="#ff0000"/>
<circle cx="282.79" cy="201.67" r="3.45" fill="#ff0000"/>
<circle cx="293.10" cy="198.67" r="3.45" fill="#ff0000"/>
<circle cx="303.41" cy="211.33" r="3.45" fill="#ff0000"/>
<circle cx="313.72" cy="198.00" r="3.45" fill="#ff0000"/>
<circle cx="324.03" cy="199.67" r="3.45" fill="#ff0000"/>
<circle cx="334.34" cy="201.67" r="3.45" fill="#ff0000"/>
<circle cx="344.65" cy="201.67" r="3.45" fill="#ff0000"/>
<circle cx="354.96" cy="193.33" r="3.45" fill="#ff0000"/>
<circle cx="365.27" cy="178.33" r="3.45" fill="#ff0000"/>
<circle cx="375.58" cy="166.00" r="3.45" fill="#ff0000"/>
<circle cx="385.89" cy="189.33" r="3.45" fill="#ff0000"/>
<circle cx="396.20" cy="206.67" r="3.45" fill="#ff0000"/>
<circle cx="406.51" cy="199.33" r="3.45" fill="#ff0000"/>
<circle cx="416.82" cy="211.67" r="3.45" fill="#ff0000"/>
<circle cx="427.13" cy="197.00" r="3.45" fill="#ff0000"/>
<circle cx="437.44" cy="196.33" r="3.45" fill="#ff0000"/>
<circle cx="447.75" cy="199.67" r="3.45" fill="#ff0000"/>
<circle cx="458.06" cy="193.33" r="3.45" fill="#ff0000"/>
<circle cx="468.37" cy="204.00" r="3.45" fill="#ff0000"/>
<circle cx="478.68" cy="205.67" r="3.45" fill="#ff0000"/>
<circle cx="488.99" cy="195.67" r="3.45" fill="#ff0000"/>
<circle cx="499.30" cy="205.33" r="3.45" fill="#ff0000"/>
<circle cx="509.61" cy="198.67" r="3.45" fill="#ff0000"/>
<path d="M42.26 197.27L49.06 204.07M42.26 204.07L49.06 197.27M52.57 190.93L59.37 197.73M52.57 197.73L59.37 190.93M62.88 205.27L69.68 212.07M62.88 212.07L69.68 205.27M73.19 196.27L79.99 203.07M73.19 203.07L79.99 196.27M83.50 195.60L90.30 202.40M83.50 202.40L90.30 195.60M93.81 196.93L100.61 203.73M93.81 203.73L100.61 196.93M104.12 192.27L110.92 199.07M104.12 199.07L110.92 192.27M114.43 191.60L121.23 198.40M114.43 198.40L121.23 191.60M124.74 198.93L131.54 205.73M124.74 205.73L131.54 198.93M135.05 195.27L141.85 202.07M135.05 202.07L141.85 195.27M145.36 188.27L152.16 195.07M145.36 195.07L152.16 188.27M155.67 186.27L162.47 193.07M155.67 193.07L162.47 186.27M165.98 180.60L172.78 187.40M165.98 187.40L172.78 180.60M176.29 194.60L183.09 201.40M176.29 201.40L183.09 194.60M186.60 190.93L193.40 197.73M186.60 197.73L193.40 190.93M196.91 196.60L203.71 203.40M196.91 203.40L203.71 196.60M207.22 190.93L214.02 197.73M207.22 197.73L214.02 190.93M217.53 191.93L224.33 198.73M217.53 198.73L224.33 191.93M227.84 202.27L234.64 209.07M227.84 209.07L234.64 202.27M238.15 189.93L244.95 196.73M238.15 196.73L244.95 189.93M248.46 192.93L255.26 199.73M248.46 199.73L255.26 192.93M258.77 191.93L265.57 198.73M258.77 198.73L265.57 191.93M269.08 194.27L275.88 201.07M269.08 201.07L275.88 194.27M279.39 183.93L286.19 190.73M279.39 190.73L286.19 183.93M289.70 186.93L296.50 193.73M289.70 193.73L296.50 186.93M300.01 168.27L306.81 175.07M300.01 175.07L306.81 168.27M310.32 173.27L317.12 180.07M310.32 180.07L317.12 173.27M320.63 187.93L327.43 194.73M320.63 194.73L327.43 187.93M330.94 183.27L337.74 190.07M330.94 190.07L337.74 183.27M341.25 189.60L348.05 196.40M341.25 196.40L348.05 189.60M351.56 193.93L358.36 200.73M351.56 200.73L358.36 193.93M361.87 133.93L368.67 140.73M361.87 140.73L368.67 133.93M372.18 149.43L378.98 156.23M372.18 156.23L378.98 149.43M382.49 190.27L389.29 197.07M382.49 197.07L389.29 190.27M392.80 185.60L399.60 192.40M392.80 192.40L399.60 185.60M403.11 195.27L409.91 202.07M403.11 202.07L409.91 195.27M413.42 190.93L420.22 197.73M413.42 197.73L420.22 190.93M423.73 194.60L430.53 201.40M423.73 201.40L430.53 194.60M434.04 185.60L440.84 192.40M434.04 192.40L440.84 185.60M444.35 188.93L451.15 195.73M444.35 195.73L451.15 188.93M454.66 199.60L461.46 206.40M454.66 206.40L461.46 199.60M464.97 193.27L471.77 200.07M464.97 200.07L471.77 193.27M475.28 182.93L482.08 189.73M475.28 189.73L482.08 182.93M485.59 186.27L492.39 193.07M485.59 193.07L492.39 186.27M495.90 181.60L502.70 188.40M495.90 188.40L502.70 181.60M506.21 197.27L513.01 204.07M506.21 204.07L513.01 197.27" stroke="#3636ff" stroke-width="1.15" fill="none"/>
<circle cx="45.66" cy="291.00" r="3.45" fill="#ff0000"/>
<circle cx="55.97" cy="296.33" r="3.45" fill="#ff0000"/>
<circle cx="66.28" cy="307.00" r="3.45" fill="#ff0000"/>
<circle cx="76.59" cy="298.33" r="3.45" fill="#ff0000"/>
<circle cx="86.90" cy="282.00" r="3.45" fill="#ff0000"/>
<circle cx="97.21" cy="297.33" r="3.45" fill="#ff0000"/>
<circle cx="107.52" cy="286.00" r="3.45" fill="#ff0000"/>
<circle cx="117.83" cy="288.67" r="3.45" fill="#ff0000"/>
<circle cx="128.14" cy="278.33" r="3.45" fill="#ff0000"/>
<circle cx="138.45" cy="295.00" r="3.45" fill="#ff0000"/>
<circle cx="148.76" cy="285.33" r="3.45" fill="#ff0000"/>
<circle cx="159.07" cy="302.00" r="3.45" fill="#ff0000"/>
<circle cx="169.38" cy="297.00" r="3.45" fill="#ff0000"/>
<circle cx="179.69" cy="284.67" r="3.45" fill="#ff0000"/>
<circle cx="190.00" cy="307.00" r="3.45" fill="#ff0000"/>
<circle cx="200.31" cy="305.00" r="3.45" fill="#ff0000"/>
<circle cx="210.62" cy="285.83" r="3.45" fill="#ff0000"/>
<circle cx="220.93" cy="306.67" r="3.45" fill="#ff0000"/>
<circle cx="231.24" cy="305.67" r="3.45" fill="#ff0000"/>
<circle cx="241.55" cy="289.67" r="3.45" fill="#ff0000"/>
<circle cx="251.86" cy="301.33" r="3.45" fill="#ff0000"/>
<circle cx="262.17" cy="301.33" r="3.45" fill="#ff0000"/>
<circle cx="272.48" cy="278.00" r="3.45" fill="#ff0000"/>
<circle cx="282.79" cy="291.00" r="3.45" fill="#ff0000"/>
<circle cx="293.10" cy="287.00" r="3.45" fill="#ff0000"/>
<circle cx="303.41" cy="290.33" r="3.45" fill="#ff0000"/>
<circle cx="313.72" cy="292.67" r="3.45" fill="#ff0000"/>
<circle cx="324.03" cy="290.33" r="3.45" fill="#ff0000"/>
<circle cx="334.34" cy="287.33" r="3.45" fill="#ff0000"/>
<circle cx="344.65" cy="301.33" r="3.45" fill="#ff0000"/>
<circle cx="354.96" cy="292.67" r="3.45" fill="#ff0000"/>
<circle cx="365.27" cy="258.33" r="3.45" fill="#ff0000"/>
<circle cx="375.58" cy="238.00" r="3.45" fill="#ff0000"/>
<circle cx="385.89" cy="274.33" r="3.45" fill="#ff0000"/>
<circle cx="396.20" cy="298.67" r="3.45" fill="#ff0000"/>
<circle cx="406.51" cy="291.33" r="3.45" fill="#ff0000"/>
<circle cx="416.82" cy="303.00" r="3.45" fill="#ff0000"/>
<circle cx="427.13" cy="287.00" r="3.45" fill="#ff0000"/>
<circle cx="437.44" cy="298.33" r="3.45" fill="#ff0000"/>
<circle cx="447.75" cy="301.00" r="3.45" fill="#ff0000"/>
<circle cx="458.06" cy="302.33" r="3.45" fill="#ff0000"/>
<circle cx="468.37" cy="300.33" r="3.45" fill="#ff0000"/>
<circle cx="478.68" cy="305.00" r="3.45" fill="#ff0000"/>
<circle cx="488.99" cy="284.00" r="3.45" fill="#ff0000"/>
<circle cx="499.30" cy="304.67" r="3.45" fill="#ff0000"/>
<circle cx="509.61" cy="302.00" r="3.45" fill="#ff0000"/>
<path d="M42.26 288.27L49.06 295.07M42.26 295.07L49.06 288.27M52.57 295.93L59.37 302.73M52.57 302.73L59.37 295.93M62.88 289.27L69.68 296.07M62.88 296.07L69.68 289.27M73.19 286.60L79.99 293.40M73.19 293.40L79.99 286.60M83.50 302.60L90.30 309.40M83.50 309.40L90.30 302.60M93.81 289.93L100.61 296.73M93.81 296.73L100.61 289.93M104.12 292.93L110.92 299.73M104.12 299.73L110.92 292.93M114.43 289.27L121.23 296.07M114.43 296.07L121.23 289.27M124.74 296.93L131.54 303.73M124.74 303.73L131.54 296.93M135.05 292.93L141.85 299.73M135.05 299.73L141.85 292.93M145.36 293.27L152.16 300.07M145.36 300.07L152.16 293.27M155.67 290.27L162.47 297.07M155.67 297.07L162.47 290.27M165.98 289.93L172.78 296.73M165.98 296.73L172.78 289.93M176.29 290.27L183.09 297.07M176.29 297.07L183.09 290.27M186.60 273.27L193.40 280.07M186.60 280.07L193.40 273.27M196.91 273.27L203.71 280.07M196.91 280.07L203.71 273.27M207.22 290.93L214.02 297.73M207.22 297.73L214.02 290.93M217.53 280.93L224.33 287.73M217.53 287.73L224.33 280.93M227.84 292.93L234.64 299.73M227.84 299.73L234.64 292.93M238.15 298.93L244.95 305.73M238.15 305.73L244.95 298.93M248.46 289.93L255.26 296.73M248.46 296.73L255.26 289.93M258.77 270.93L265.57 277.73M258.77 277.73L265.57 270.93M269.08 280.60L275.88 287.40M269.08 287.40L275.88 280.60M279.39 283.93L286.19 290.73M279.39 290.73L286.19 283.93M289.70 290.93L296.50 297.73M289.70 297.73L296.50 290.93M300.01 269.60L306.81 276.40M300.01 276.40L306.81 269.60M310.32 258.27L317.12 265.07M310.32 265.07L317.12 258.27M320.63 296.27L327.43 303.07M320.63 303.07L327.43 296.27M330.94 285.27L337.74 292.07M330.94 292.07L337.74 285.27M341.25 279.93L348.05 286.73M341.25 286.73L348.05 279.93M351.56 278.93L358.36 285.73M351.56 285.73L358.36 278.93M361.87 246.93L368.67 253.73M361.87 253.73L368.67 246.93M372.18 270.27L378.98 277.07M372.18 277.07L378.98 270.27M382.49 290.27L389.29 297.07M382.49 297.07L389.29 290.27M392.80 307.60L399.60 314.40M392.80 314.40L399.60 307.60M403.11 299.60L409.91 306.40M403.11 306.40L409.91 299.60M413.42 299.60L420.22 306.40M413.42 306.40L420.22 299.60M423.73 286.93L430.53 293.73M423.73 293.73L430.53 286.93M434.04 286.93L440.84 293.73M434.04 293.73L440.84 286.93M444.35 297.27L451.15 304.07M444.35 304.07L451.15 297.27M454.66 291.93L461.46 298.73M454.66 298.73L461.46 291.93M464.97 283.60L471.77 290.40M464.97 290.40L471.77 283.60M475.28 289.60L482.08 296.40M475.28 296.40L482.08 289.60M485.59 288.27L492.39 295.07M485.59 295.07L492.39 288.27M495.90 280.60L502.70 287.40M495.90 287.40L502.70 280.60M506.21 299.27L513.01 306.07M506.21 306.07L513.01 299.27" stroke="#3636ff" stroke-width="1.15" fill="none"/>
<circle cx="45.66" cy="400.00" r="3.45" fill="#ff0000"/>
<circle cx="55.97" cy="391.67" r="3.45" fill="#ff0000"/>
<circle cx="66.28" cy="402.33" r="3.45" fill="#ff0000"/>
<circle cx="76.59" cy="388.67" r="3.45" fill="#ff0000"/>
<circle cx="86.90" cy="387.33" r="3.45" fill="#ff0000"/>
<circle cx="97.21" cy="386.33" r="3.45" fill="#ff0000"/>
<circle cx="107.52" cy="378.33" r="3.45" fill="#ff0000"/>
<circle cx="117.83" cy="373.67" r="3.45" fill="#ff0000"/>
<circle cx="128.14" cy="387.00" r="3.45" fill="#ff0000"/>
<circle cx="138.45" cy="389.33" r="3.45" fill="#ff0000"/>
<circle cx="148.76" cy="393.33" r="3.45" fill="#ff0000"/>
<circle cx="159.07" cy="376.33" r="3.45" fill="#ff0000"/>
<circle cx="169.38" cy="371.00" r="3.45" fill="#ff0000"/>
<circle cx="179.69" cy="379.67" r="3.45" fill="#ff0000"/>
<circle cx="190.00" cy="379.67" r="3.45" fill="#ff0000"/>
<circle cx="200.31" cy="375.33" r="3.45" fill="#ff0000"/>
<circle cx="210.62" cy="388.67" r="3.45" fill="#ff0000"/>
<circle cx="220.93" cy="389.33" r="3.45" fill="#ff0000"/>
<circle cx="231.24" cy="398.00" r="3.45" fill="#ff0000"/>
<circle cx="241.55" cy="395.33" r="3.45" fill="#ff0000"/>
<circle cx="251.86" cy="392.33" r="3.45" fill="#ff0000"/>
<circle cx="262.17" cy="372.33" r="3.45" fill="#ff0000"/>
<circle cx="272.48" cy="378.00" r="3.45" fill="#ff0000"/>
<circle cx="282.79" cy="385.67" r="3.45" fill="#ff0000"/>
<circle cx="293.10" cy="380.00" r="3.45" fill="#ff0000"/>
<circle cx="303.41" cy="359.00" r="3.45" fill="#ff0000"/>
<circle cx="313.72" cy="343.33" r="3.45" fill="#ff0000"/>
<circle cx="324.03" cy="382.00" r="3.45" fill="#ff0000"/>
<circle cx="334.34" cy="385.67" r="3.45" fill="#ff0000"/>
<circle cx="344.65" cy="383.00" r="3.45" fill="#ff0000"/>
<circle cx="354.96" cy="385.17" r="3.45" fill="#ff0000"/>
<circle cx="365.27" cy="357.50" r="3.45" fill="#ff0000"/>
<circle cx="375.58" cy="356.67" r="3.45" fill="#ff0000"/>
<circle cx="385.89" cy="390.00" r="3.45" fill="#ff0000"/>
<circle cx="396.20" cy="396.00" r="3.45" fill="#ff0000"/>
<circle cx="406.51" cy="409.00" r="3.45" fill="#ff0000"/>
<circle cx="416.82" cy="396.33" r="3.45" fill="#ff0000"/>
<circle cx="427.13" cy="382.67" r="3.45" fill="#ff0000"/>
<circle cx="437.44" cy="375.33" r="3.45" fill="#ff0000"/>
<circle cx="447.75" cy="392.00" r="3.45" fill="#ff0000"/>
<circle cx="458.06" cy="383.00" r="3.45" fill="#ff0000"/>
<circle cx="468.37" cy="383.67" r="3.45" fill="#ff0000"/>
<circle cx="478.68" cy="386.33" r="3.45" fill="#ff0000"/>
<circle cx="488.99" cy="398.33" r="3.45" fill="#ff0000"/>
<circle cx="499.30" cy="373.00" r="3.45" fill="#ff0000"/>
<circle cx="509.61" cy="403.33" r="3.45" fill="#ff0000"/>
<path d="M42.26 368.93L49.06 375.73M42.26 375.73L49.06 368.93M52.57 382.93L59.37 389.73M52.57 389.73L59.37 382.93M62.88 385.93L69.68 392.73M62.88 392.73L69.68 385.93M73.19 391.93L79.99 398.73M73.19 398.73L79.99 391.93M83.50 391.60L90.30 398.40M83.50 398.40L90.30 391.60M93.81 400.60L100.61 407.40M93.81 407.40L100.61 400.60M104.12 391.93L110.92 398.73M104.12 398.73L110.92 391.93M114.43 390.60L121.23 397.40M114.43 397.40L121.23 390.60M124.74 379.27L131.54 386.07M124.74 386.07L131.54 379.27M135.05 386.27L141.85 393.07M135.05 393.07L141.85 386.27M145.36 371.60L152.16 378.40M145.36 378.40L152.16 371.60M155.67 391.93L162.47 398.73M155.67 398.73L162.47 391.93M165.98 395.93L172.78 402.73M165.98 402.73L172.78 395.93M176.29 389.27L183.09 396.07M176.29 396.07L183.09 389.27M186.60 399.93L193.40 406.73M186.60 406.73L193.40 399.93M196.91 394.93L203.71 401.73M196.91 401.73L203.71 394.93M207.22 378.60L214.02 385.40M207.22 385.40L214.02 378.60M217.53 382.93L224.33 389.73M217.53 389.73L224.33 382.93M227.84 390.27L234.64 397.07M227.84 397.07L234.64 390.27M238.15 377.60L244.95 384.40M238.15 384.40L244.95 377.60M248.46 391.27L255.26 398.07M248.46 398.07L255.26 391.27M258.77 389.27L265.57 396.07M258.77 396.07L265.57 389.27M269.08 374.60L275.88 381.40M269.08 381.40L275.88 374.60M279.39 381.60L286.19 388.40M279.39 388.40L286.19 381.60M289.70 378.60L296.50 385.40M289.70 385.40L296.50 378.60M300.01 389.93L306.81 396.73M300.01 396.73L306.81 389.93M310.32 382.27L317.12 389.07M310.32 389.07L317.12 382.27M320.63 377.27L327.43 384.07M320.63 384.07L327.43 377.27M330.94 365.27L337.74 372.07M330.94 372.07L337.74 365.27M341.25 392.27L348.05 399.07M341.25 399.07L348.05 392.27M351.56 367.93L358.36 374.73M351.56 374.73L358.36 367.93M361.87 335.93L368.67 342.73M361.87 342.73L368.67 335.93M372.18 366.27L378.98 373.07M372.18 373.07L378.98 366.27M382.49 366.93L389.29 373.73M382.49 373.73L389.29 366.93M392.80 391.93L399.60 398.73M392.80 398.73L399.60 391.93M403.11 374.93L409.91 381.73M403.11 381.73L409.91 374.93M413.42 401.27L420.22 408.07M413.42 408.07L420.22 401.27M423.73 381.60L430.53 388.40M423.73 388.40L430.53 381.60M434.04 390.27L440.84 397.07M434.04 397.07L440.84 390.27M444.35 384.27L451.15 391.07M444.35 391.07L451.15 384.27M454.66 394.60L461.46 401.40M454.66 401.40L461.46 394.60M464.97 393.60L471.77 400.40M464.97 400.40L471.77 393.60M475.28 381.60L482.08 388.40M475.28 388.40L482.08 381.60M485.59 361.60L492.39 368.40M485.59 368.40L492.39 361.60M495.90 396.93L502.70 403.73M495.90 403.73L502.70 396.93M506.21 386.60L513.01 393.40M506.21 393.40L513.01 386.60" stroke="#3636ff" stroke-width="1.15" fill="none"/>
<circle cx="45.66" cy="491.67" r="3.45" fill="#ff0000"/>
<circle cx="55.97" cy="487.33" r="3.45" fill="#ff0000"/>
<circle cx="66.28" cy="508.67" r="3.45" fill="#ff0000"/>
<circle cx="76.59" cy="499.67" r="3.45" fill="#ff0000"/>
<circle cx="86.90" cy="501.00" r="3.45" fill="#ff0000"/>
<circle cx="97.21" cy="504.33" r="3.45" fill="#ff0000"/>
<circle cx="107.52" cy="494.33" r="3.45" fill="#ff0000"/>
<circle cx="117.83" cy="492.67" r="3.45" fill="#ff0000"/>
<circle cx="128.14" cy="491.67" r="3.45" fill="#ff0000"/>
<circle cx="138.45" cy="492.67" r="3.45" fill="#ff0000"/>
<circle cx="148.76" cy="495.33" r="3.45" fill="#ff0000"/>
<circle cx="159.07" cy="491.33" r="3.45" fill="#ff0000"/>
<circle cx="169.38" cy="485.67" r="3.45" fill="#ff0000"/>
<circle cx="179.69" cy="492.67" r="3.45" fill="#ff0000"/>
<circle cx="190.00" cy="490.00" r="3.45" fill="#ff0000"/>
<circle cx="200.31" cy="496.00" r="3.45" fill="#ff0000"/>
<circle cx="210.62" cy="497.00" r="3.45" fill="#ff0000"/>
<circle cx="220.93" cy="483.00" r="3.45" fill="#ff0000"/>
<circle cx="231.24" cy="487.33" r="3.45" fill="#ff0000"/>
<circle cx="241.55" cy="490.00" r="3.45" fill="#ff0000"/>
<circle cx="251.86" cy="492.33" r="3.45" fill="#ff0000"/>
<circle cx="262.17" cy="491.33" r="3.45" fill="#ff0000"/>
<circle cx="272.48" cy="495.67" r="3.45" fill="#ff0000"/>
<circle cx="282.79" cy="484.00" r="3.45" fill="#ff0000"/>
<circle cx="293.10" cy="494.67" r="3.45" fill="#ff0000"/>
<circle cx="303.41" cy="487.00" r="3.45" fill="#ff0000"/>
<circle cx="313.72" cy="495.33" r="3.45" fill="#ff0000"/>
<circle cx="324.03" cy="495.33" r="3.45" fill="#ff0000"/>
<circle cx="334.34" cy="504.67" r="3.45" fill="#ff0000"/>
<circle cx="344.65" cy="500.00" r="3.45" fill="#ff0000"/>
<circle cx="354.96" cy="494.67" r="3.45" fill="#ff0000"/>
<circle cx="365.27" cy="460.67" r="3.45" fill="#ff0000"/>
<circle cx="375.58" cy="449.67" r="3.45" fill="#ff0000"/>
<circle cx="385.89" cy="493.00" r="3.45" fill="#ff0000"/>
<circle cx="396.20" cy="493.00" r="3.45" fill="#ff0000"/>
<circle cx="406.51" cy="507.33" r="3.45" fill="#ff0000"/>
<circle cx="416.82" cy="505.67" r="3.45" fill="#ff0000"/>
<circle cx="427.13" cy="510.67" r="3.45" fill="#ff0000"/>
<circle cx="437.44" cy="501.67" r="3.45" fill="#ff0000"/>
<circle cx="447.75" cy="502.33" r="3.45" fill="#ff0000"/>
<circle cx="458.06" cy="504.33" r="3.45" fill="#ff0000"/>
<circle cx="468.37" cy="496.67" r="3.45" fill="#ff0000"/>
<circle cx="478.68" cy="486.00" r="3.45" fill="#ff0000"/>
<circle cx="488.99" cy="498.00" r="3.45" fill="#ff0000"/>
<circle cx="499.30" cy="497.67" r="3.45" fill="#ff0000"/>
<circle cx="509.61" cy="503.00" r="3.45" fill="#ff0000"/>
<path d="M42.26 491.60L49.06 498.40M42.26 498.40L49.06 491.60M52.57 496.27L59.37 503.07M52.57 503.07L59.37 496.27M62.88 491.93L69.68 498.73M62.88 498.73L69.68 491.93M73.19 483.93L79.99 490.73M73.19 490.73L79.99 483.93M83.50 488.60L90.30 495.40M83.50 495.40L90.30 488.60M93.81 485.93L100.61 492.73M93.81 492.73L100.61 485.93M104.12 479.93L110.92 486.73M104.12 486.73L110.92 479.93M114.43 481.27L121.23 488.07M114.43 488.07L121.23 481.27M124.74 482.93L131.54 489.73M124.74 489.73L131.54 482.93M135.05 473.60L141.85 480.40M135.05 480.40L141.85 473.60M145.36 476.93L152.16 483.73M145.36 483.73L152.16 476.93M155.67 483.60L162.47 490.40M155.67 490.40L162.47 483.60M165.98 482.93L172.78 489.73M165.98 489.73L172.78 482.93M176.29 484.27L183.09 491.07M176.29 491.07L183.09 484.27M186.60 488.93L193.40 495.73M186.60 495.73L193.40 488.93M196.91 478.27L203.71 485.07M196.91 485.07L203.71 478.27M207.22 473.27L214.02 480.07M207.22 480.07L214.02 473.27M217.53 492.93L224.33 499.73M217.53 499.73L224.33 492.93M227.84 498.60L234.64 505.40M227.84 505.40L234.64 498.60M238.15 492.27L244.95 499.07M238.15 499.07L244.95 492.27M248.46 496.60L255.26 503.40M248.46 503.40L255.26 496.60M258.77 491.60L265.57 498.40M258.77 498.40L265.57 491.60M269.08 485.27L275.88 492.07M269.08 492.07L275.88 485.27M279.39 496.60L286.19 503.40M279.39 503.40L286.19 496.60M289.70 486.93L296.50 493.73M289.70 493.73L296.50 486.93M300.01 481.27L306.81 488.07M300.01 488.07L306.81 481.27M310.32 473.60L317.12 480.40M310.32 480.40L317.12 473.60M320.63 483.93L327.43 490.73M320.63 490.73L327.43 483.93M330.94 476.93L337.74 483.73M330.94 483.73L337.74 476.93M341.25 482.60L348.05 489.40M341.25 489.40L348.05 482.60M351.56 491.93L358.36 498.73M351.56 498.73L358.36 491.93M361.87 433.93L368.67 440.73M361.87 440.73L368.67 433.93M372.18 444.27L378.98 451.07M372.18 451.07L378.98 444.27M382.49 487.93L389.29 494.73M382.49 494.73L389.29 487.93M392.80 495.93L399.60 502.73M392.80 502.73L399.60 495.93M403.11 482.27L409.91 489.07M403.11 489.07L409.91 482.27M413.42 487.93L420.22 494.73M413.42 494.73L420.22 487.93M423.73 480.93L430.53 487.73M423.73 487.73L430.53 480.93M434.04 480.27L440.84 487.07M434.04 487.07L440.84 480.27M444.35 485.60L451.15 492.40M444.35 492.40L451.15 485.60M454.66 477.93L461.46 484.73M454.66 484.73L461.46 477.93M464.97 487.27L471.77 494.07M464.97 494.07L471.77 487.27M475.28 497.93L482.08 504.73M475.28 504.73L482.08 497.93M485.59 488.60L492.39 495.40M485.59 495.40L492.39 488.60M495.90 484.93L502.70 491.73M495.90 491.73L502.70 484.93M506.21 489.93L513.01 496.73M506.21 496.73L513.01 489.93" stroke="#3636ff" stroke-width="1.15" fill="none"/>
<circle cx="45.66" cy="597.00" r="3.45" fill="#ff0000"/>
<circle cx="55.97" cy="600.67" r="3.45" fill="#ff0000"/>
<circle cx="66.28" cy="602.67" r="3.45" fill="#ff0000"/>
<circle cx="76.59" cy="602.67" r="3.45" fill="#ff0000"/>
<circle cx="86.90" cy="602.33" r="3.45" fill="#ff0000"/>
<circle cx="97.21" cy="596.67" r="3.45" fill="#ff0000"/>
<circle cx="107.52" cy="588.67" r="3.45" fill="#ff0000"/>
<circle cx="117.83" cy="579.00" r="3.45" fill="#ff0000"/>
<circle cx="128.14" cy="597.00" r="3.45" fill="#ff0000"/>
<circle cx="138.45" cy="595.00" r="3.45" fill="#ff0000"/>
<circle cx="148.76" cy="604.00" r="3.45" fill="#ff0000"/>
<circle cx="159.07" cy="586.67" r="3.45" fill="#ff0000"/>
<circle cx="169.38" cy="590.00" r="3.45" fill="#ff0000"/>
<circle cx="179.69" cy="587.67" r="3.45" fill="#ff0000"/>
<circle cx="190.00" cy="594.33" r="3.45" fill="#ff0000"/>
<circle cx="200.31" cy="589.67" r="3.45" fill="#ff0000"/>
<circle cx="210.62" cy="597.00" r="3.45" fill="#ff0000"/>
<circle cx="220.93" cy="592.33" r="3.45" fill="#ff0000"/>
<circle cx="231.24" cy="599.00" r="3.45" fill="#ff0000"/>
<circle cx="241.55" cy="604.00" r="3.45" fill="#ff0000"/>
<circle cx="251.86" cy="600.00" r="3.45" fill="#ff0000"/>
<circle cx="262.17" cy="591.00" r="3.45" fill="#ff0000"/>
<circle cx="272.48" cy="603.67" r="3.45" fill="#ff0000"/>
<circle cx="282.79" cy="594.67" r="3.45" fill="#ff0000"/>
<circle cx="293.10" cy="601.67" r="3.45" fill="#ff0000"/>
<circle cx="303.41" cy="593.33" r="3.45" fill="#ff0000"/>
<circle cx="313.72" cy="588.67" r="3.45" fill="#ff0000"/>
<circle cx="324.03" cy="607.33" r="3.45" fill="#ff0000"/>
<circle cx="334.34" cy="594.00" r="3.45" fill="#ff0000"/>
<circle cx="344.65" cy="601.00" r="3.45" fill="#ff0000"/>
<circle cx="354.96" cy="594.67" r="3.45" fill="#ff0000"/>
<circle cx="365.27" cy="538.33" r="3.45" fill="#ff0000"/>
<circle cx="375.58" cy="557.33" r="3.45" fill="#ff0000"/>
<circle cx="385.89" cy="608.67" r="3.45" fill="#ff0000"/>
<circle cx="396.20" cy="602.67" r="3.45" fill="#ff0000"/>
<circle cx="406.51" cy="609.33" r="3.45" fill="#ff0000"/>
<circle cx="416.82" cy="598.67" r="3.45" fill="#ff0000"/>
<circle cx="427.13" cy="603.33" r="3.45" fill="#ff0000"/>
<circle cx="437.44" cy="601.33" r="3.45" fill="#ff0000"/>
<circle cx="447.75" cy="606.67" r="3.45" fill="#ff0000"/>
<circle cx="458.06" cy="604.33" r="3.45" fill="#ff0000"/>
<circle cx="468.37" cy="602.33" r="3.45" fill="#ff0000"/>
<circle cx="478.68" cy="607.00" r="3.45" fill="#ff0000"/>
<circle cx="488.99" cy="600.00" r="3.45" fill="#ff0000"/>
<circle cx="499.30" cy="605.00" r="3.45" fill="#ff0000"/>
<circle cx="509.61" cy="609.33" r="3.45" fill="#ff0000"/>
<path d="M42.26 580.27L49.06 587.07M42.26 587.07L49.06 580.27M52.57 592.60L59.37 599.40M52.57 599.40L59.37 592.60M62.88 589.93L69.68 596.73M62.88 596.73L69.68 589.93M73.19 583.60L79.99 590.40M73.19 590.40L79.99 583.60M83.50 590.27L90.30 597.07M83.50 597.07L90.30 590.27M93.81 586.93L100.61 593.73M93.81 593.73L100.61 586.93M104.12 580.93L110.92 587.73M104.12 587.73L110.92 580.93M114.43 591.93L121.23 598.73M114.43 598.73L121.23 591.93M124.74 577.93L131.54 584.73M124.74 584.73L131.54 577.93M135.05 585.60L141.85 592.40M135.05 592.40L141.85 585.60M145.36 570.27L152.16 577.07M145.36 577.07L152.16 570.27M155.67 589.93L162.47 596.73M155.67 596.73L162.47 589.93M165.98 579.93L172.78 586.73M165.98 586.73L172.78 579.93M176.29 585.27L183.09 592.07M176.29 592.07L183.09 585.27M186.60 583.27L193.40 590.07M186.60 590.07L193.40 583.27M196.91 581.27L203.71 588.07M196.91 588.07L203.71 581.27M207.22 577.10L214.02 583.90M207.22 583.90L214.02 577.10M217.53 594.27L224.33 601.07M217.53 601.07L224.33 594.27M227.84 594.60L234.64 601.40M227.84 601.40L234.64 594.60M238.15 587.93L244.95 594.73M238.15 594.73L244.95 587.93M248.46 588.93L255.26 595.73M248.46 595.73L255.26 588.93M258.77 603.60L265.57 610.40M258.77 610.40L265.57 603.60M269.08 587.27L275.88 594.07M269.08 594.07L275.88 587.27M279.39 594.60L286.19 601.40M279.39 601.40L286.19 594.60M289.70 585.60L296.50 592.40M289.70 592.40L296.50 585.60M300.01 573.93L306.81 580.73M300.01 580.73L306.81 573.93M310.32 583.60L317.12 590.40M310.32 590.40L317.12 583.60M320.63 582.93L327.43 589.73M320.63 589.73L327.43 582.93M330.94 594.93L337.74 601.73M330.94 601.73L337.74 594.93M341.25 587.27L348.05 594.07M341.25 594.07L348.05 587.27M351.56 590.77L358.36 597.57M351.56 597.57L358.36 590.77M361.87 569.60L368.67 576.40M361.87 576.40L368.67 569.60M372.18 547.93L378.98 554.73M372.18 554.73L378.98 547.93M382.49 573.60L389.29 580.40M382.49 580.40L389.29 573.60M392.80 600.93L399.60 607.73M392.80 607.73L399.60 600.93M403.11 593.93L409.91 600.73M403.11 600.73L409.91 593.93M413.42 600.93L420.22 607.73M413.42 607.73L420.22 600.93M423.73 588.60L430.53 595.40M423.73 595.40L430.53 588.60M434.04 588.60L440.84 595.40M434.04 595.40L440.84 588.60M444.35 589.93L451.15 596.73M444.35 596.73L451.15 589.93M454.66 595.93L461.46 602.73M454.66 602.73L461.46 595.93M464.97 594.27L471.77 601.07M464.97 601.07L471.77 594.27M475.28 596.27L482.08 603.07M475.28 603.07L482.08 596.27M485.59 592.93L492.39 599.73M485.59 599.73L492.39 592.93M495.90 599.93L502.70 606.73M495.90 606.73L502.70 599.93M506.21 597.27L513.01 604.07M506.21 604.07L513.01 597.27" stroke="#3636ff" stroke-width="1.15" fill="none"/>
<circle cx="45.66" cy="683.67" r="3.45" fill="#ff0000"/>
<circle cx="55.97" cy="695.67" r="3.45" fill="#ff0000"/>
<circle cx="66.28" cy="695.67" r="3.45" fill="#ff0000"/>
<circle cx="76.59" cy="673.33" r="3.45" fill="#ff0000"/>
<circle cx="86.90" cy="687.00" r="3.45" fill="#ff0000"/>
<circle cx="97.21" cy="692.00" r="3.45" fill="#ff0000"/>
<circle cx="107.52" cy="680.00" r="3.45" fill="#ff0000"/>
<circle cx="117.83" cy="686.33" r="3.45" fill="#ff0000"/>
<circle cx="128.14" cy="667.33" r="3.45" fill="#ff0000"/>
<circle cx="138.45" cy="683.67" r="3.45" fill="#ff0000"/>
<circle cx="148.76" cy="687.00" r="3.45" fill="#ff0000"/>
<circle cx="159.07" cy="699.00" r="3.45" fill="#ff0000"/>
<circle cx="169.38" cy="681.00" r="3.45" fill="#ff0000"/>
<circle cx="179.69" cy="682.00" r="3.45" fill="#ff0000"/>
<circle cx="190.00" cy="700.33" r="3.45" fill="#ff0000"/>
<circle cx="200.31" cy="699.33" r="3.45" fill="#ff0000"/>
<circle cx="210.62" cy="682.33" r="3.45" fill="#ff0000"/>
<circle cx="220.93" cy="695.33" r="3.45" fill="#ff0000"/>
<circle cx="231.24" cy="694.00" r="3.45" fill="#ff0000"/>
<circle cx="241.55" cy="681.00" r="3.45" fill="#ff0000"/>
<circle cx="251.86" cy="702.00" r="3.45" fill="#ff0000"/>
<circle cx="262.17" cy="687.33" r="3.45" fill="#ff0000"/>
<circle cx="272.48" cy="661.67" r="3.45" fill="#ff0000"/>
<circle cx="282.79" cy="690.67" r="3.45" fill="#ff0000"/>
<circle cx="293.10" cy="692.00" r="3.45" fill="#ff0000"/>
<circle cx="303.41" cy="678.67" r="3.45" fill="#ff0000"/>
<circle cx="313.72" cy="678.67" r="3.45" fill="#ff0000"/>
<circle cx="324.03" cy="676.33" r="3.45" fill="#ff0000"/>
<circle cx="334.34" cy="680.00" r="3.45" fill="#ff0000"/>
<circle cx="344.65" cy="699.00" r="3.45" fill="#ff0000"/>
<circle cx="354.96" cy="692.00" r="3.45" fill="#ff0000"/>
<circle cx="365.27" cy="640.00" r="3.45" fill="#ff0000"/>
<circle cx="375.58" cy="649.67" r="3.45" fill="#ff0000"/>
<circle cx="385.89" cy="667.67" r="3.45" fill="#ff0000"/>
<circle cx="396.20" cy="696.67" r="3.45" fill="#ff0000"/>
<circle cx="406.51" cy="701.00" r="3.45" fill="#ff0000"/>
<circle cx="416.82" cy="701.33" r="3.45" fill="#ff0000"/>
<circle cx="427.13" cy="693.33" r="3.45" fill="#ff0000"/>
<circle cx="437.44" cy="695.67" r="3.45" fill="#ff0000"/>
<circle cx="447.75" cy="697.67" r="3.45" fill="#ff0000"/>
<circle cx="458.06" cy="698.00" r="3.45" fill="#ff0000"/>
<circle cx="468.37" cy="707.00" r="3.45" fill="#ff0000"/>
<circle cx="478.68" cy="705.00" r="3.45" fill="#ff0000"/>
<circle cx="488.99" cy="677.33" r="3.45" fill="#ff0000"/>
<circle cx="499.30" cy="705.00" r="3.45" fill="#ff0000"/>
<circle cx="509.61" cy="701.00" r="3.45" fill="#ff0000"/>
<path d="M42.26 698.93L49.06 705.73M42.26 705.73L49.06 698.93M52.57 671.60L59.37 678.40M52.57 678.40L59.37 671.60M62.88 674.27L69.68 681.07M62.88 681.07L69.68 674.27M73.19 679.27L79.99 686.07M73.19 686.07L79.99 679.27M83.50 694.60L90.30 701.40M83.50 701.40L90.30 694.60M93.81 693.60L100.61 700.40M93.81 700.40L100.61 693.60M104.12 690.27L110.92 697.07M104.12 697.07L110.92 690.27M114.43 662.93L121.23 669.73M114.43 669.73L121.23 662.93M124.74 685.27L131.54 692.07M124.74 692.07L131.54 685.27M135.05 691.93L141.85 698.73M135.05 698.73L141.85 691.93M145.36 683.60L152.16 690.40M145.36 690.40L152.16 683.60M155.67 680.27L162.47 687.07M155.67 687.07L162.47 680.27M165.98 685.27L172.78 692.07M165.98 692.07L172.78 685.27M176.29 694.27L183.09 701.07M176.29 701.07L183.09 694.27M186.60 680.60L193.40 687.40M186.60 687.40L193.40 680.60M196.91 675.60L203.71 682.40M196.91 682.40L203.71 675.60M207.22 684.93L214.02 691.73M207.22 691.73L214.02 684.93M217.53 677.93L224.33 684.73M217.53 684.73L224.33 677.93M227.84 697.60L234.64 704.40M227.84 704.40L234.64 697.60M238.15 700.27L244.95 707.07M238.15 707.07L244.95 700.27M248.46 682.60L255.26 689.40M248.46 689.40L255.26 682.60M258.77 675.27L265.57 682.07M258.77 682.07L265.57 675.27M269.08 679.93L275.88 686.73M269.08 686.73L275.88 679.93M279.39 682.27L286.19 689.07M279.39 689.07L286.19 682.27M289.70 671.93L296.50 678.73M289.70 678.73L296.50 671.93M300.01 671.93L306.81 678.73M300.01 678.73L306.81 671.93M310.32 663.27L317.12 670.07M310.32 670.07L317.12 663.27M320.63 682.93L327.43 689.73M320.63 689.73L327.43 682.93M330.94 672.27L337.74 679.07M330.94 679.07L337.74 672.27M341.25 676.60L348.05 683.40M341.25 683.40L348.05 676.60M351.56 677.77L358.36 684.57M351.56 684.57L358.36 677.77M361.87 648.93L368.67 655.73M361.87 655.73L368.67 648.93M372.18 647.60L378.98 654.40M372.18 654.40L378.98 647.60M382.49 694.27L389.29 701.07M382.49 701.07L389.29 694.27M392.80 703.93L399.60 710.73M392.80 710.73L399.60 703.93M403.11 697.93L409.91 704.73M403.11 704.73L409.91 697.93M413.42 701.60L420.22 708.40M413.42 708.40L420.22 701.60M423.73 690.27L430.53 697.07M423.73 697.07L430.53 690.27M434.04 697.27L440.84 704.07M434.04 704.07L440.84 697.27M444.35 701.93L451.15 708.73M444.35 708.73L451.15 701.93M454.66 700.60L461.46 707.40M454.66 707.40L461.46 700.60M464.97 682.60L471.77 689.40M464.97 689.40L471.77 682.60M475.28 688.93L482.08 695.73M475.28 695.73L482.08 688.93M485.59 695.60L492.39 702.40M485.59 702.40L492.39 695.60M495.90 676.60L502.70 683.40M495.90 683.40L502.70 676.60M506.21 696.27L513.01 703.07M506.21 703.07L513.01 696.27" stroke="#3636ff" stroke-width="1.15" fill="none"/>
<circle cx="45.66" cy="779.33" r="3.45" fill="#ff0000"/>
<circle cx="55.97" cy="794.00" r="3.45" fill="#ff0000"/>
<circle cx="66.28" cy="773.33" r="3.45" fill="#ff0000"/>
<circle cx="76.59" cy="759.00" r="3.45" fill="#ff0000"/>
<circle cx="86.90" cy="791.67" r="3.45" fill="#ff0000"/>
<circle cx="97.21" cy="795.00" r="3.45" fill="#ff0000"/>
<circle cx="107.52" cy="791.67" r="3.45" fill="#ff0000"/>
<circle cx="117.83" cy="793.00" r="3.45" fill="#ff0000"/>
<circle cx="128.14" cy="765.33" r="3.45" fill="#ff0000"/>
<circle cx="138.45" cy="785.00" r="3.45" fill="#ff0000"/>
<circle cx="148.76" cy="791.67" r="3.45" fill="#ff0000"/>
<circle cx="159.07" cy="796.33" r="3.45" fill="#ff0000"/>
<circle cx="169.38" cy="793.00" r="3.45" fill="#ff0000"/>
<circle cx="179.69" cy="786.67" r="3.45" fill="#ff0000"/>
<circle cx="190.00" cy="803.00" r="3.45" fill="#ff0000"/>
<circle cx="200.31" cy="787.00" r="3.45" fill="#ff0000"/>
<circle cx="210.62" cy="784.67" r="3.45" fill="#ff0000"/>
<circle cx="220.93" cy="797.67" r="3.45" fill="#ff0000"/>
<circle cx="231.24" cy="799.00" r="3.45" fill="#ff0000"/>
<circle cx="241.55" cy="777.00" r="3.45" fill="#ff0000"/>
<circle cx="251.86" cy="800.00" r="3.45" fill="#ff0000"/>
<circle cx="262.17" cy="795.00" r="3.45" fill="#ff0000"/>
<circle cx="272.48" cy="763.67" r="3.45" fill="#ff0000"/>
<circle cx="282.79" cy="793.00" r="3.45" fill="#ff0000"/>
<circle cx="293.10" cy="790.33" r="3.45" fill="#ff0000"/>
<circle cx="303.41" cy="778.67" r="3.45" fill="#ff0000"/>
<circle cx="313.72" cy="787.00" r="3.45" fill="#ff0000"/>
<circle cx="324.03" cy="779.67" r="3.45" fill="#ff0000"/>
<circle cx="334.34" cy="765.67" r="3.45" fill="#ff0000"/>
<circle cx="344.65" cy="792.00" r="3.45" fill="#ff0000"/>
<circle cx="354.96" cy="776.67" r="3.45" fill="#ff0000"/>
<circle cx="365.27" cy="759.00" r="3.45" fill="#ff0000"/>
<circle cx="375.58" cy="771.00" r="3.45" fill="#ff0000"/>
<circle cx="385.89" cy="783.33" r="3.45" fill="#ff0000"/>
<circle cx="396.20" cy="805.67" r="3.45" fill="#ff0000"/>
<circle cx="406.51" cy="797.33" r="3.45" fill="#ff0000"/>
<circle cx="416.82" cy="810.00" r="3.45" fill="#ff0000"/>
<circle cx="427.13" cy="795.00" r="3.45" fill="#ff0000"/>
<circle cx="437.44" cy="802.67" r="3.45" fill="#ff0000"/>
<circle cx="447.75" cy="796.00" r="3.45" fill="#ff0000"/>
<circle cx="458.06" cy="796.67" r="3.45" fill="#ff0000"/>
<circle cx="468.37" cy="799.67" r="3.45" fill="#ff0000"/>
<circle cx="478.68" cy="790.67" r="3.45" fill="#ff0000"/>
<circle cx="488.99" cy="779.00" r="3.45" fill="#ff0000"/>
<circle cx="499.30" cy="807.00" r="3.45" fill="#ff0000"/>
<circle cx="509.61" cy="797.33" r="3.45" fill="#ff0000"/>
<path d="M42.26 793.60L49.06 800.40M42.26 800.40L49.06 793.60M52.57 759.60L59.37 766.40M52.57 766.40L59.37 759.60M62.88 785.27L69.68 792.07M62.88 792.07L69.68 785.27M73.19 783.27L79.99 790.07M73.19 790.07L79.99 783.27M83.50 783.27L90.30 790.07M83.50 790.07L90.30 783.27M93.81 784.93L100.61 791.73M93.81 791.73L100.61 784.93M104.12 771.27L110.92 778.07M104.12 778.07L110.92 771.27M114.43 763.93L121.23 770.73M114.43 770.73L121.23 763.93M124.74 782.27L131.54 789.07M124.74 789.07L131.54 782.27M135.05 782.27L141.85 789.07M135.05 789.07L141.85 782.27M145.36 781.60L152.16 788.40M145.36 788.40L152.16 781.60M155.67 771.27L162.47 778.07M155.67 778.07L162.47 771.27M165.98 772.93L172.78 779.73M165.98 779.73L172.78 772.93M176.29 783.27L183.09 790.07M176.29 790.07L183.09 783.27M186.60 771.93L193.40 778.73M186.60 778.73L193.40 771.93M196.91 783.93L203.71 790.73M196.91 790.73L203.71 783.93M207.22 790.60L214.02 797.40M207.22 797.40L214.02 790.60M217.53 784.60L224.33 791.40M217.53 791.40L224.33 784.60M227.84 792.60L234.64 799.40M227.84 799.40L234.64 792.60M238.15 796.60L244.95 803.40M238.15 803.40L244.95 796.60M248.46 786.60L255.26 793.40M248.46 793.40L255.26 786.60M258.77 762.60L265.57 769.40M258.77 769.40L265.57 762.60M269.08 776.93L275.88 783.73M269.08 783.73L275.88 776.93M279.39 783.60L286.19 790.40M279.39 790.40L286.19 783.60M289.70 778.27L296.50 785.07M289.70 785.07L296.50 778.27M300.01 780.60L306.81 787.40M300.01 787.40L306.81 780.60M310.32 759.60L317.12 766.40M310.32 766.40L317.12 759.60M320.63 780.93L327.43 787.73M320.63 787.73L327.43 780.93M330.94 787.60L337.74 794.40M330.94 794.40L337.74 787.60M341.25 781.93L348.05 788.73M341.25 788.73L348.05 781.93M351.56 792.10L358.36 798.90M351.56 798.90L358.36 792.10M361.87 744.27L368.67 751.07M361.87 751.07L368.67 744.27M372.18 734.27L378.98 741.07M372.18 741.07L378.98 734.27M382.49 789.93L389.29 796.73M382.49 796.73L389.29 789.93M392.80 799.60L399.60 806.40M392.80 806.40L399.60 799.60M403.11 805.93L409.91 812.73M403.11 812.73L409.91 805.93M413.42 794.27L420.22 801.07M413.42 801.07L420.22 794.27M423.73 791.93L430.53 798.73M423.73 798.73L430.53 791.93M434.04 793.27L440.84 800.07M434.04 800.07L440.84 793.27M444.35 793.27L451.15 800.07M444.35 800.07L451.15 793.27M454.66 794.93L461.46 801.73M454.66 801.73L461.46 794.93M464.97 789.27L471.77 796.07M464.97 796.07L471.77 789.27M475.28 793.93L482.08 800.73M475.28 800.73L482.08 793.93M485.59 792.60L492.39 799.40M485.59 799.40L492.39 792.60M495.90 768.27L502.70 775.07M495.90 775.07L502.70 768.27M506.21 793.93L513.01 800.73M506.21 800.73L513.01 793.93" stroke="#3636ff" stroke-width="1.15" fill="none"/>
<text x="71.60" y="19.00" text-anchor="middle" font-family="&quot;Liberation Sans&quot;, sans-serif" font-weight="bold" font-size="12" stroke="#000" stroke-width="0.3">12:00</text>
<text x="71.60" y="832.60" text-anchor="middle" font-family="&quot;Liberation Sans&quot;, sans-serif" font-weight="bold" font-size="12" stroke="#000" stroke-width="0.3">12:00</text>
<text x="123.10" y="19.00" text-anchor="middle" font-family="&quot;Liberation Sans&quot;, sans-serif" font-weight="bold" font-size="12" stroke="#000" stroke-width="0.3">13:00</text>
<text x="123.10" y="832.60" text-anchor="middle" font-family="&quot;Liberation Sans&quot;, sans-serif" font-weight="bold" font-size="12" stroke="#000" stroke-width="0.3">13:00</text>
<text x="174.60" y="19.00" text-anchor="middle" font-family="&quot;Liberation Sans&quot;, sans-serif" font-weight="bold" font-size="12" stroke="#000" stroke-width="0.3">14:00</text>
<text x="174.60" y="832.60" text-anchor="middle" font-family="&quot;Liberation Sans&quot;, sans-serif" font-weight="bold" font-size="12" stroke="#000" stroke-width="0.3">14:00</text>
<text x="226.10" y="19.00" text-anchor="middle" font-family="&quot;Liberation Sans&quot;, sans-serif" font-weight="bold" font-size="12" stroke="#000" stroke-width="0.3">15:00</text>
<text x="226.10" y="832.60" text-anchor="middle" font-family="&quot;Liberation Sans&quot;, sans-serif" font-weight="bold" font-size="12" stroke="#000" stroke-width="0.3">15:00</text>
<text x="277.60" y="19.00" text-anchor="middle" font-family="&quot;Liberation Sans&quot;, sans-serif" font-weight="bold" font-size="12" stroke="#000" stroke-width="0.3">16:00</text>
<text x="277.60" y="832.60" text-anchor="middle" font-family="&quot;Liberation Sans&quot;, sans-serif" font-weight="bold" font-size="12" stroke="#000" stroke-width="0.3">16:00</text>
<text x="329.10" y="19.00" text-anchor="middle" font-family="&quot;Liberation Sans&quot;, sans-serif" font-weight="bold" font-size="12" stroke="#000" stroke-width="0.3">17:00</text>
<text x="329.10" y="832.60" text-anchor="middle" font-family="&quot;Liberation Sans&quot;, sans-serif" font-weight="bold" font-size="12" stroke="#000" stroke-width="0.3">17:00</text>
<text x="380.60" y="19.00" text-anchor="middle" font-family="&quot;Liberation Sans&quot;, sans-serif" font-weight="bold" font-size="12" stroke="#000" stroke-width="0.3">18:00</text>
<text x="380.60" y="832.60" text-anchor="middle" font-family="&quot;Liberation Sans&quot;, sans-serif" font-weight="bold" font-size="12" stroke="#000" stroke-width="0.3">18:00</text>
<text x="432.10" y="19.00" text-anchor="middle" font-family="&quot;Liberation Sans&quot;, sans-serif" font-weight="bold" font-size="12" stroke="#000" stroke-width="0.3">19:00</text>
<text x="432.10" y="832.60" text-anchor="middle" font-family="&quot;Liberation Sans&quot;, sans-serif" font-weight="bold" font-size="12" stroke="#000" stroke-width="0.3">19:00</text>
<text x="483.60" y="19.00" text-anchor="middle" font-family="&quot;Liberation Sans&quot;, sans-serif" font-weight="bold" font-size="12" stroke="#000" stroke-width="0.3">20:00</text>
<text x="483.60" y="832.60" text-anchor="middle" font-family="&quot;Liberation Sans&quot;, sans-serif" font-weight="bold" font-size="12" stroke="#000" stroke-width="0.3">20:00</text>
<text x="282.90" y="9.00" text-anchor="middle" font-family="&quot;Liberation Sans&quot;, sans-serif" font-weight="bold" font-size="12" stroke="#000" stroke-width="0.3">Time (UT)</text>
<text x="282.90" y="845.60" text-anchor="middle" font-family="&quot;Liberation Sans&quot;, sans-serif" font-weight="bold" font-size="12" stroke="#000" stroke-width="0.3">Time (UT)</text>
<g transform="translate(11.1,108.43) rotate(-90)"><path d="M3.90 -9.80C2.82 -10.70 1.92 -10.20 2.10 -8.90L2.10 -0.60C2.28 0.70 1.38 1.20 0.30 0.30" stroke="#000" stroke-width="1.0" fill="none"/><g transform="translate(6.66,0.00) scale(0.86,1.08)"><text x="0.00" y="0.00" font-family="&quot;Liberation Sans&quot;, sans-serif" font-weight="normal" font-size="11.8" stroke="#000" stroke-width="0.15">δ</text></g><text x="13.09" y="0.00" font-family="&quot;Liberation Sans&quot;, sans-serif" font-weight="bold" font-size="11.8" stroke="#000" stroke-width="0.3">B</text><text x="21.63" y="2.70" font-family="&quot;Liberation Sans&quot;, sans-serif" font-weight="bold" font-size="7.0">r</text><text x="27.73" y="0.00" font-family="&quot;Liberation Sans&quot;, sans-serif" font-weight="bold" font-size="11.8" stroke="#000" stroke-width="0.3">(10</text><text x="45.69" y="-5.40" font-family="&quot;Liberation Sans&quot;, sans-serif" font-weight="bold" font-size="7.3" stroke="#000" stroke-width="0.15">22</text><text x="57.04" y="0.00" font-family="&quot;Liberation Sans&quot;, sans-serif" font-weight="bold" font-size="11.8" stroke="#000" stroke-width="0.3">Mx)</text></g>
<g transform="translate(11.1,211.85) rotate(-90)"><path d="M3.90 -9.80C2.82 -10.70 1.92 -10.20 2.10 -8.90L2.10 -0.60C2.28 0.70 1.38 1.20 0.30 0.30" stroke="#000" stroke-width="1.0" fill="none"/><g transform="translate(6.66,0.00) scale(0.86,1.08)"><text x="0.00" y="0.00" font-family="&quot;Liberation Sans&quot;, sans-serif" font-weight="normal" font-size="11.8" stroke="#000" stroke-width="0.15">δ</text></g><text x="12.53" y="0.00" font-family="&quot;Liberation Sans&quot;, sans-serif" font-weight="bold" font-size="11.8" stroke="#000" stroke-width="0.3">B</text><path d="M23.38 -4.5V3.5M27.74 -4.5V3.5" stroke="#8c8c8c" stroke-width="1" fill="none"/><text x="37.07" y="0.00" font-family="&quot;Liberation Sans&quot;, sans-serif" font-weight="bold" font-size="11.8" stroke="#000" stroke-width="0.3">(10</text><text x="54.50" y="-5.40" font-family="&quot;Liberation Sans&quot;, sans-serif" font-weight="bold" font-size="7.3" stroke="#000" stroke-width="0.15">22</text><text x="66.13" y="0.00" font-family="&quot;Liberation Sans&quot;, sans-serif" font-weight="bold" font-size="11.8" stroke="#000" stroke-width="0.3">Mx)</text></g>
<g transform="translate(11.1,309.85) rotate(-90)"><path d="M3.90 -9.80C2.82 -10.70 1.92 -10.20 2.10 -8.90L2.10 -0.60C2.28 0.70 1.38 1.20 0.30 0.30" stroke="#000" stroke-width="1.0" fill="none"/><g transform="translate(6.66,0.00) scale(0.86,1.08)"><text x="0.00" y="0.00" font-family="&quot;Liberation Sans&quot;, sans-serif" font-weight="normal" font-size="11.8" stroke="#000" stroke-width="0.15">δ</text></g><text x="12.53" y="0.00" font-family="&quot;Liberation Sans&quot;, sans-serif" font-weight="bold" font-size="11.8" stroke="#000" stroke-width="0.3">B</text><path d="M23.49 -1.6V3.1M21.53 3.1H25.45" stroke="#8c8c8c" stroke-width="1" fill="none"/><text x="32.82" y="0.00" font-family="&quot;Liberation Sans&quot;, sans-serif" font-weight="bold" font-size="11.8" stroke="#000" stroke-width="0.3">(10</text><text x="50.52" y="-5.40" font-family="&quot;Liberation Sans&quot;, sans-serif" font-weight="bold" font-size="7.3" stroke="#000" stroke-width="0.15">22</text><text x="62.15" y="0.00" font-family="&quot;Liberation Sans&quot;, sans-serif" font-weight="bold" font-size="11.8" stroke="#000" stroke-width="0.3">Mx)</text></g>
<g transform="translate(21.1,408.72) rotate(-90)"><g transform="translate(-0.13,0.00) scale(0.86,1.08)"><text x="0.00" y="0.00" font-family="&quot;Liberation Sans&quot;, sans-serif" font-weight="normal" font-size="11.8" stroke="#000" stroke-width="0.15">δ</text></g><text x="6.30" y="0.00" font-family="&quot;Liberation Sans&quot;, sans-serif" font-weight="bold" font-size="11.8" stroke="#000" stroke-width="0.3">F</text><text x="13.71" y="2.70" font-family="&quot;Liberation Sans&quot;, sans-serif" font-weight="bold" font-size="7.0">r</text><text x="23.48" y="0.00" font-family="&quot;Liberation Sans&quot;, sans-serif" font-weight="bold" font-size="11.8" stroke="#000" stroke-width="0.3">(10</text><text x="40.60" y="-5.40" font-family="&quot;Liberation Sans&quot;, sans-serif" font-weight="bold" font-size="7.3" stroke="#000" stroke-width="0.15">22</text><text x="51.69" y="0.00" font-family="&quot;Liberation Sans&quot;, sans-serif" font-weight="bold" font-size="11.8" stroke="#000" stroke-width="0.3">dyn)</text></g>
<g transform="translate(21.1,511.28) rotate(-90)"><g transform="translate(-0.13,0.00) scale(0.86,1.08)"><text x="0.00" y="0.00" font-family="&quot;Liberation Sans&quot;, sans-serif" font-weight="normal" font-size="11.8" stroke="#000" stroke-width="0.15">δ</text></g><text x="6.87" y="0.00" font-family="&quot;Liberation Sans&quot;, sans-serif" font-weight="bold" font-size="11.8" stroke="#000" stroke-width="0.3">F</text><path d="M15.85 -4.5V3.5M20.09 -4.5V3.5" stroke="#8c8c8c" stroke-width="1" fill="none"/><text x="29.14" y="0.00" font-family="&quot;Liberation Sans&quot;, sans-serif" font-weight="bold" font-size="11.8" stroke="#000" stroke-width="0.3">(10</text><text x="46.58" y="-5.40" font-family="&quot;Liberation Sans&quot;, sans-serif" font-weight="bold" font-size="7.3" stroke="#000" stroke-width="0.15">22</text><text x="58.24" y="0.00" font-family="&quot;Liberation Sans&quot;, sans-serif" font-weight="bold" font-size="11.8" stroke="#000" stroke-width="0.3">dyn)</text></g>
<g transform="translate(21.1,608.74) rotate(-90)"><g transform="translate(-0.13,0.00) scale(0.86,1.08)"><text x="0.00" y="0.00" font-family="&quot;Liberation Sans&quot;, sans-serif" font-weight="normal" font-size="11.8" stroke="#000" stroke-width="0.15">δ</text></g><text x="6.02" y="0.00" font-family="&quot;Liberation Sans&quot;, sans-serif" font-weight="bold" font-size="11.8" stroke="#000" stroke-width="0.3">F</text><path d="M15.43 -1.6V3.1M13.60 3.1H17.25" stroke="#8c8c8c" stroke-width="1" fill="none"/><text x="24.90" y="0.00" font-family="&quot;Liberation Sans&quot;, sans-serif" font-weight="bold" font-size="11.8" stroke="#000" stroke-width="0.3">(10</text><text x="42.03" y="-5.40" font-family="&quot;Liberation Sans&quot;, sans-serif" font-weight="bold" font-size="7.3" stroke="#000" stroke-width="0.15">22</text><text x="53.97" y="0.00" font-family="&quot;Liberation Sans&quot;, sans-serif" font-weight="bold" font-size="11.8" stroke="#000" stroke-width="0.3">dyn)</text></g>
<g transform="translate(11.1,709.28) rotate(-90)"><path d="M3.90 -9.80C2.82 -10.70 1.92 -10.20 2.10 -8.90L2.10 -0.60C2.28 0.70 1.38 1.20 0.30 0.30" stroke="#000" stroke-width="1.0" fill="none"/><g transform="translate(6.66,0.00) scale(0.86,1.08)"><text x="0.00" y="0.00" font-family="&quot;Liberation Sans&quot;, sans-serif" font-weight="normal" font-size="11.8" stroke="#000" stroke-width="0.15">δ</text></g><text x="12.41" y="0.00" font-family="&quot;Liberation Sans&quot;, sans-serif" font-weight="bold" font-size="11.8" stroke="#000" stroke-width="0.3">S</text><text x="21.04" y="2.70" font-family="&quot;Liberation Sans&quot;, sans-serif" font-weight="bold" font-size="7.0">h</text><text x="32.54" y="0.00" font-family="&quot;Liberation Sans&quot;, sans-serif" font-weight="bold" font-size="11.8" stroke="#000" stroke-width="0.3">(10</text><text x="50.52" y="-5.40" font-family="&quot;Liberation Sans&quot;, sans-serif" font-weight="bold" font-size="7.3" stroke="#000" stroke-width="0.15">22</text><text x="61.87" y="0.00" font-family="&quot;Liberation Sans&quot;, sans-serif" font-weight="bold" font-size="11.8" stroke="#000" stroke-width="0.3">Mx)</text></g>
<g transform="translate(11.1,809.3) rotate(-90)"><path d="M3.90 -9.80C2.82 -10.70 1.92 -10.20 2.10 -8.90L2.10 -0.60C2.28 0.70 1.38 1.20 0.30 0.30" stroke="#000" stroke-width="1.0" fill="none"/><g transform="translate(6.95,0.00) scale(0.86,1.08)"><text x="0.00" y="0.00" font-family="&quot;Liberation Sans&quot;, sans-serif" font-weight="normal" font-size="11.8" stroke="#000" stroke-width="0.15">δ</text></g><text x="12.70" y="0.00" font-family="&quot;Liberation Sans&quot;, sans-serif" font-weight="bold" font-size="11.8" stroke="#000" stroke-width="0.3">S</text><text x="21.50" y="2.70" font-family="&quot;Liberation Sans&quot;, sans-serif" font-weight="bold" font-size="7.0">v</text><text x="31.97" y="0.00" font-family="&quot;Liberation Sans&quot;, sans-serif" font-weight="bold" font-size="11.8" stroke="#000" stroke-width="0.3">(10</text><text x="49.69" y="-5.40" font-family="&quot;Liberation Sans&quot;, sans-serif" font-weight="bold" font-size="7.3" stroke="#000" stroke-width="0.15">22</text><text x="61.04" y="0.00" font-family="&quot;Liberation Sans&quot;, sans-serif" font-weight="bold" font-size="11.8" stroke="#000" stroke-width="0.3">Mx)</text></g>
<path d="M64.60 30.40C63.64 29.50 62.84 30.00 63.00 31.30L63.00 39.20C63.16 40.50 62.36 41.00 61.40 40.10" stroke="#000" stroke-width="1.0" fill="none"/><text x="67.70" y="39.80" font-family="&quot;Liberation Sans&quot;, sans-serif" font-weight="normal" font-size="12" stroke="#000" stroke-width="0.15">δ</text><text x="74.00" y="39.80" font-family="&quot;Liberation Sans&quot;, sans-serif" font-weight="bold" font-size="12" stroke="#000" stroke-width="0.3">B</text><text x="82.45" y="42.30" font-family="&quot;Liberation Sans&quot;, sans-serif" font-weight="bold" font-size="6.8">r</text><text x="88.51" y="39.80" font-family="&quot;Liberation Sans&quot;, sans-serif" font-weight="bold" font-size="12" stroke="#000" stroke-width="0.3">dA</text>
<text x="149.30" y="40.00" font-family="&quot;Liberation Sans&quot;, sans-serif" font-weight="bold" font-size="11.7" stroke="#000" stroke-width="0.3">Pre-flare 3<tspan font-weight="normal" stroke-width="0.2">σ</tspan>:</text>
<path d="M64.60 130.33C63.64 129.43 62.84 129.93 63.00 131.23L63.00 139.13C63.16 140.43 62.36 140.93 61.40 140.03" stroke="#000" stroke-width="1.0" fill="none"/><text x="67.70" y="139.73" font-family="&quot;Liberation Sans&quot;, sans-serif" font-weight="normal" font-size="12" stroke="#000" stroke-width="0.15">δ</text><text x="74.00" y="139.73" font-family="&quot;Liberation Sans&quot;, sans-serif" font-weight="bold" font-size="12" stroke="#000" stroke-width="0.3">B</text><path d="M84.90 135.33V142.63M89.50 135.33V142.63" stroke="#8c8c8c" stroke-width="1.0" fill="none"/><text x="94.51" y="139.73" font-family="&quot;Liberation Sans&quot;, sans-serif" font-weight="bold" font-size="12" stroke="#000" stroke-width="0.3">dA</text>
<text x="149.30" y="139.93" font-family="&quot;Liberation Sans&quot;, sans-serif" font-weight="bold" font-size="11.7" stroke="#000" stroke-width="0.3">Pre-flare 3<tspan font-weight="normal" stroke-width="0.2">σ</tspan>:</text>
<path d="M64.60 230.26C63.64 229.36 62.84 229.86 63.00 231.16L63.00 239.06C63.16 240.36 62.36 240.86 61.40 239.96" stroke="#000" stroke-width="1.0" fill="none"/><text x="67.70" y="239.66" font-family="&quot;Liberation Sans&quot;, sans-serif" font-weight="normal" font-size="12" stroke="#000" stroke-width="0.15">δ</text><text x="74.00" y="239.66" font-family="&quot;Liberation Sans&quot;, sans-serif" font-weight="bold" font-size="12" stroke="#000" stroke-width="0.3">B</text><path d="M85.15 237.06V242.16M82.90 242.16H87.40" stroke="#8c8c8c" stroke-width="1.0" fill="none"/><text x="90.61" y="239.66" font-family="&quot;Liberation Sans&quot;, sans-serif" font-weight="bold" font-size="12" stroke="#000" stroke-width="0.3">dA</text>
<text x="149.30" y="239.86" font-family="&quot;Liberation Sans&quot;, sans-serif" font-weight="bold" font-size="11.7" stroke="#000" stroke-width="0.3">Pre-flare 3<tspan font-weight="normal" stroke-width="0.2">σ</tspan>:</text>
<text x="61.10" y="339.59" font-family="&quot;Liberation Sans&quot;, sans-serif" font-weight="normal" font-size="12">δ</text><text x="66.80" y="339.99" font-family="&quot;Liberation Sans&quot;, sans-serif" font-weight="bold" font-size="12" stroke="#000" stroke-width="0.35">F</text><text x="74.85" y="341.99" font-family="&quot;Liberation Sans&quot;, sans-serif" font-weight="bold" font-size="6.8">r</text>
<text x="149.30" y="339.79" font-family="&quot;Liberation Sans&quot;, sans-serif" font-weight="bold" font-size="11.7" stroke="#000" stroke-width="0.3">Pre-flare 3<tspan font-weight="normal" stroke-width="0.2">σ</tspan>:</text>
<text x="61.10" y="439.52" font-family="&quot;Liberation Sans&quot;, sans-serif" font-weight="normal" font-size="12">δ</text><text x="66.80" y="439.92" font-family="&quot;Liberation Sans&quot;, sans-serif" font-weight="bold" font-size="12" stroke="#000" stroke-width="0.35">F</text><path d="M76.10 435.52V443.02M81.30 435.52V443.02" stroke="#8c8c8c" stroke-width="1.0" fill="none"/>
<text x="149.30" y="439.72" font-family="&quot;Liberation Sans&quot;, sans-serif" font-weight="bold" font-size="11.7" stroke="#000" stroke-width="0.3">Pre-flare 3<tspan font-weight="normal" stroke-width="0.2">σ</tspan>:</text>
<text x="61.10" y="539.45" font-family="&quot;Liberation Sans&quot;, sans-serif" font-weight="normal" font-size="12">δ</text><text x="66.80" y="539.85" font-family="&quot;Liberation Sans&quot;, sans-serif" font-weight="bold" font-size="12" stroke="#000" stroke-width="0.35">F</text><path d="M77.15 536.85V541.95M74.80 541.95H79.50" stroke="#8c8c8c" stroke-width="1.0" fill="none"/>
<text x="149.30" y="539.65" font-family="&quot;Liberation Sans&quot;, sans-serif" font-weight="bold" font-size="11.7" stroke="#000" stroke-width="0.3">Pre-flare 3<tspan font-weight="normal" stroke-width="0.2">σ</tspan>:</text>
<path d="M64.60 629.98C63.64 629.08 62.84 629.58 63.00 630.88L63.00 638.78C63.16 640.08 62.36 640.58 61.40 639.68" stroke="#000" stroke-width="1.0" fill="none"/><text x="67.70" y="639.38" font-family="&quot;Liberation Sans&quot;, sans-serif" font-weight="normal" font-size="12" stroke="#000" stroke-width="0.15">δ</text><text x="74.45" y="639.38" font-family="&quot;Liberation Sans&quot;, sans-serif" font-weight="bold" font-size="12" stroke="#000" stroke-width="0.3">S</text><text x="82.43" y="641.88" font-family="&quot;Liberation Sans&quot;, sans-serif" font-weight="bold" font-size="6.8">h</text><text x="88.51" y="639.38" font-family="&quot;Liberation Sans&quot;, sans-serif" font-weight="bold" font-size="12" stroke="#000" stroke-width="0.3">dA</text>
<text x="149.30" y="639.58" font-family="&quot;Liberation Sans&quot;, sans-serif" font-weight="bold" font-size="11.7" stroke="#000" stroke-width="0.3">Pre-flare 3<tspan font-weight="normal" stroke-width="0.2">σ</tspan>:</text>
<path d="M64.60 729.91C63.64 729.01 62.84 729.51 63.00 730.81L63.00 738.71C63.16 740.01 62.36 740.51 61.40 739.61" stroke="#000" stroke-width="1.0" fill="none"/><text x="67.70" y="739.31" font-family="&quot;Liberation Sans&quot;, sans-serif" font-weight="normal" font-size="12" stroke="#000" stroke-width="0.15">δ</text><text x="74.45" y="739.31" font-family="&quot;Liberation Sans&quot;, sans-serif" font-weight="bold" font-size="12" stroke="#000" stroke-width="0.3">S</text><text x="82.87" y="741.81" font-family="&quot;Liberation Sans&quot;, sans-serif" font-weight="bold" font-size="6.8">v</text><text x="88.51" y="739.31" font-family="&quot;Liberation Sans&quot;, sans-serif" font-weight="bold" font-size="12" stroke="#000" stroke-width="0.3">dA</text>
<text x="149.30" y="739.51" font-family="&quot;Liberation Sans&quot;, sans-serif" font-weight="bold" font-size="11.7" stroke="#000" stroke-width="0.3">Pre-flare 3<tspan font-weight="normal" stroke-width="0.2">σ</tspan>:</text>
<path d="M248.90 33.80H254.70M251.80 33.80V39.10M248.90 39.10H254.70" stroke="#ff3030" stroke-width="1.1" fill="none"/>
<path d="M259.20 32.90H265.00M262.10 32.90V39.30M259.20 39.30H265.00" stroke="#3030ff" stroke-width="1.1" fill="none"/>
<path d="M248.90 134.80H254.70M251.80 134.80V138.20M248.90 138.20H254.70" stroke="#ff3030" stroke-width="1.1" fill="none"/>
<path d="M259.20 134.20H265.00M262.10 134.20V138.20M259.20 138.20H265.00" stroke="#3030ff" stroke-width="1.1" fill="none"/>
<path d="M248.90 233.60H254.70M251.80 233.60V238.50M248.90 238.50H254.70" stroke="#ff3030" stroke-width="1.1" fill="none"/>
<path d="M259.20 233.60H265.00M262.10 233.60V238.20M259.20 238.20H265.00" stroke="#3030ff" stroke-width="1.1" fill="none"/>
<path d="M248.90 332.60H254.70M251.80 332.60V339.40M248.90 339.40H254.70" stroke="#ff3030" stroke-width="1.1" fill="none"/>
<path d="M259.20 333.50H265.00M262.10 333.50V338.30M259.20 338.30H265.00" stroke="#3030ff" stroke-width="1.1" fill="none"/>
<path d="M248.90 433.80H254.70M251.80 433.80V437.80M248.90 437.80H254.70" stroke="#ff3030" stroke-width="1.1" fill="none"/>
<path d="M259.20 433.70H265.00M262.10 433.70V438.00M259.20 438.00H265.00" stroke="#3030ff" stroke-width="1.1" fill="none"/>
<path d="M248.90 533.80H254.70M251.80 533.80V537.80M248.90 537.80H254.70" stroke="#ff3030" stroke-width="1.1" fill="none"/>
<path d="M259.20 533.70H265.00M262.10 533.70V537.80M259.20 537.80H265.00" stroke="#3030ff" stroke-width="1.1" fill="none"/>
<path d="M248.90 632.80H254.70M251.80 632.80V638.20M248.90 638.20H254.70" stroke="#ff3030" stroke-width="1.1" fill="none"/>
<path d="M259.20 632.80H265.00M262.10 632.80V638.00M259.20 638.00H265.00" stroke="#3030ff" stroke-width="1.1" fill="none"/>
<path d="M248.90 731.80H254.70M251.80 731.80V739.00M248.90 739.00H254.70" stroke="#ff3030" stroke-width="1.1" fill="none"/>
<path d="M259.20 732.80H265.00M262.10 732.80V738.20M259.20 738.20H265.00" stroke="#3030ff" stroke-width="1.1" fill="none"/>
</svg>
</body></html>
